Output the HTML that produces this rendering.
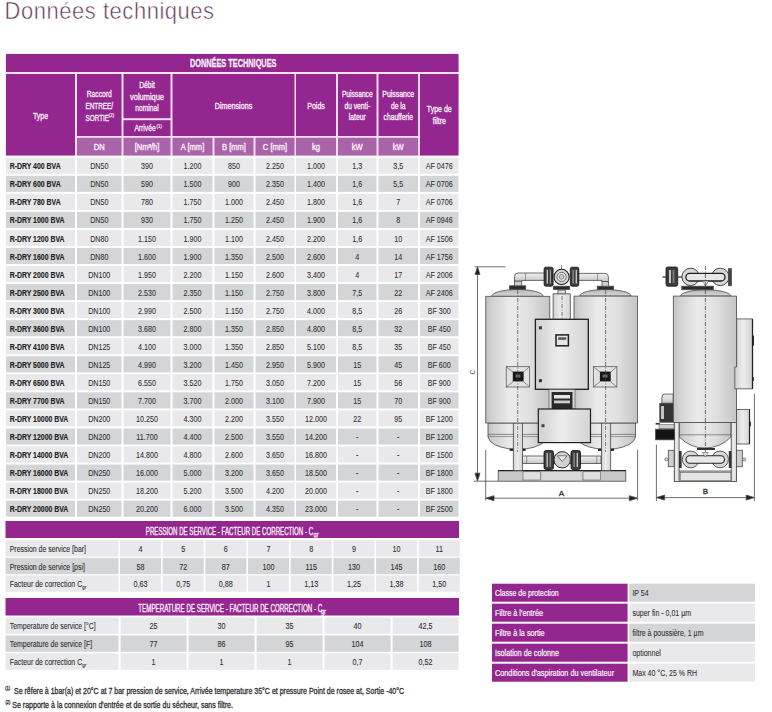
<!DOCTYPE html>
<html><head><meta charset="utf-8"><style>
html,body{margin:0;padding:0;background:#fff;width:772px;height:712px;overflow:hidden}
svg{display:block}
text{font-family:"Liberation Sans",sans-serif;white-space:pre}
</style></head><body>
<svg width="772" height="712" viewBox="0 0 772 712">
<text transform="translate(4.60,19.20) scale(0.9200,1)" font-size="23.9" font-weight="normal" fill="#5e3459" text-anchor="start"  stroke="#fff" stroke-width="0.55" textLength="227.72" lengthAdjust="spacing">Données techniques</text>
<rect x="5.50" y="53.50" width="453.50" height="102.50" fill="#f6def3" />
<rect x="6.00" y="54.00" width="452.50" height="18.00" fill="#93268f" />
<text transform="translate(233.20,67.10) scale(0.7010,1)" font-size="10.5" font-weight="bold" fill="#fbeefa" text-anchor="middle"  stroke="#fbeefa" stroke-width="0.3">DONNÉES TECHNIQUES</text>
<rect x="6.00" y="74.00" width="69.00" height="81.50" fill="#93268f" />
<rect x="77.00" y="74.00" width="44.50" height="62.00" fill="#93268f" />
<rect x="123.50" y="74.00" width="47.00" height="44.20" fill="#93268f" />
<rect x="123.50" y="120.20" width="47.00" height="15.80" fill="#93268f" />
<rect x="172.50" y="74.00" width="122.00" height="62.00" fill="#93268f" />
<rect x="296.00" y="74.00" width="40.00" height="62.00" fill="#93268f" />
<rect x="338.00" y="74.00" width="38.50" height="62.00" fill="#93268f" />
<rect x="378.50" y="74.00" width="39.50" height="62.00" fill="#93268f" />
<rect x="420.00" y="74.00" width="38.50" height="81.50" fill="#93268f" />
<rect x="77.00" y="137.80" width="44.50" height="17.70" fill="#aa62a9" />
<rect x="123.50" y="137.80" width="47.00" height="17.70" fill="#aa62a9" />
<rect x="172.50" y="137.80" width="40.00" height="17.70" fill="#aa62a9" />
<rect x="214.50" y="137.80" width="39.00" height="17.70" fill="#aa62a9" />
<rect x="255.50" y="137.80" width="39.00" height="17.70" fill="#aa62a9" />
<rect x="296.00" y="137.80" width="40.00" height="17.70" fill="#aa62a9" />
<rect x="338.00" y="137.80" width="38.50" height="17.70" fill="#aa62a9" />
<rect x="378.50" y="137.80" width="39.50" height="17.70" fill="#aa62a9" />
<text transform="translate(40.50,118.80) scale(0.7200,1)" font-size="9.6" font-weight="normal" fill="#fbeefa" text-anchor="middle"  stroke="#fbeefa" stroke-width="0.35">Type</text>
<text transform="translate(99.25,97.00) scale(0.6993,1)" font-size="9.6" font-weight="normal" fill="#fbeefa" text-anchor="middle"  stroke="#fbeefa" stroke-width="0.35">Raccord</text>
<text transform="translate(99.25,109.20) scale(0.6658,1)" font-size="9.6" font-weight="normal" fill="#fbeefa" text-anchor="middle"  stroke="#fbeefa" stroke-width="0.35">ENTREE/</text>
<text transform="translate(97.25,120.60) scale(0.6600,1)" font-size="9.6" font-weight="normal" fill="#fbeefa" text-anchor="middle"  stroke="#fbeefa" stroke-width="0.35">SORTIE</text>
<text transform="translate(147.00,87.80) scale(0.7000,1)" font-size="9.6" font-weight="normal" fill="#fbeefa" text-anchor="middle"  stroke="#fbeefa" stroke-width="0.35">Débit</text>
<text transform="translate(147.00,99.90) scale(0.7770,1)" font-size="9.6" font-weight="normal" fill="#fbeefa" text-anchor="middle"  stroke="#fbeefa" stroke-width="0.35">volumique</text>
<text transform="translate(147.00,111.30) scale(0.7000,1)" font-size="9.6" font-weight="normal" fill="#fbeefa" text-anchor="middle"  stroke="#fbeefa" stroke-width="0.35">nominal</text>
<text transform="translate(145.00,131.30) scale(0.7000,1)" font-size="9.6" font-weight="normal" fill="#fbeefa" text-anchor="middle"  stroke="#fbeefa" stroke-width="0.35">Arrivée</text>
<text transform="translate(156.50,127.50) scale(0.8000,1)" font-size="5.5" font-weight="normal" fill="#fbeefa" text-anchor="start"  stroke="#fbeefa" stroke-width="0.2">(1)</text>
<text transform="translate(108.80,116.80) scale(0.8000,1)" font-size="5.5" font-weight="normal" fill="#fbeefa" text-anchor="start"  stroke="#fbeefa" stroke-width="0.2">(2)</text>
<text transform="translate(233.50,109.00) scale(0.7517,1)" font-size="9.6" font-weight="normal" fill="#fbeefa" text-anchor="middle"  stroke="#fbeefa" stroke-width="0.35">Dimensions</text>
<text transform="translate(316.00,108.60) scale(0.7370,1)" font-size="9.6" font-weight="normal" fill="#fbeefa" text-anchor="middle"  stroke="#fbeefa" stroke-width="0.35">Poids</text>
<text transform="translate(357.25,96.80) scale(0.6954,1)" font-size="9.6" font-weight="normal" fill="#fbeefa" text-anchor="middle"  stroke="#fbeefa" stroke-width="0.35">Puissance</text>
<text transform="translate(357.25,108.60) scale(0.7000,1)" font-size="9.6" font-weight="normal" fill="#fbeefa" text-anchor="middle"  stroke="#fbeefa" stroke-width="0.35">du venti-</text>
<text transform="translate(357.25,120.10) scale(0.7000,1)" font-size="9.6" font-weight="normal" fill="#fbeefa" text-anchor="middle"  stroke="#fbeefa" stroke-width="0.35">lateur</text>
<text transform="translate(398.25,96.80) scale(0.7225,1)" font-size="9.6" font-weight="normal" fill="#fbeefa" text-anchor="middle"  stroke="#fbeefa" stroke-width="0.35">Puissance</text>
<text transform="translate(398.25,108.60) scale(0.7000,1)" font-size="9.6" font-weight="normal" fill="#fbeefa" text-anchor="middle"  stroke="#fbeefa" stroke-width="0.35">de la</text>
<text transform="translate(398.25,120.10) scale(0.7000,1)" font-size="9.6" font-weight="normal" fill="#fbeefa" text-anchor="middle"  stroke="#fbeefa" stroke-width="0.35">chaufferie</text>
<text transform="translate(439.25,112.00) scale(0.7319,1)" font-size="9.6" font-weight="normal" fill="#fbeefa" text-anchor="middle"  stroke="#fbeefa" stroke-width="0.35">Type de</text>
<text transform="translate(439.25,123.80) scale(0.7200,1)" font-size="9.6" font-weight="normal" fill="#fbeefa" text-anchor="middle"  stroke="#fbeefa" stroke-width="0.35">filtre</text>
<text transform="translate(99.25,150.00) scale(0.9000,1)" font-size="8.4" font-weight="normal" fill="#fbeefa" text-anchor="middle"  stroke="#fbeefa" stroke-width="0.35">DN</text>
<text transform="translate(147.00,150.00) scale(0.9000,1)" font-size="8.4" font-weight="normal" fill="#fbeefa" text-anchor="middle"  stroke="#fbeefa" stroke-width="0.35">[Nm³/h]</text>
<text transform="translate(192.50,150.00) scale(0.9000,1)" font-size="8.4" font-weight="normal" fill="#fbeefa" text-anchor="middle"  stroke="#fbeefa" stroke-width="0.35">A [mm]</text>
<text transform="translate(234.00,150.00) scale(0.9000,1)" font-size="8.4" font-weight="normal" fill="#fbeefa" text-anchor="middle"  stroke="#fbeefa" stroke-width="0.35">B [mm]</text>
<text transform="translate(275.00,150.00) scale(0.9000,1)" font-size="8.4" font-weight="normal" fill="#fbeefa" text-anchor="middle"  stroke="#fbeefa" stroke-width="0.35">C [mm]</text>
<text transform="translate(316.00,150.00) scale(0.9000,1)" font-size="8.4" font-weight="normal" fill="#fbeefa" text-anchor="middle"  stroke="#fbeefa" stroke-width="0.35">kg</text>
<text transform="translate(357.25,150.00) scale(0.9000,1)" font-size="8.4" font-weight="normal" fill="#fbeefa" text-anchor="middle"  stroke="#fbeefa" stroke-width="0.35">kW</text>
<text transform="translate(398.25,150.00) scale(0.9000,1)" font-size="8.4" font-weight="normal" fill="#fbeefa" text-anchor="middle"  stroke="#fbeefa" stroke-width="0.35">kW</text>
<rect x="6.00" y="157.70" width="69.00" height="16.10" fill="#e9e9eb" />
<rect x="77.00" y="157.70" width="44.50" height="16.10" fill="#e9e9eb" />
<rect x="123.50" y="157.70" width="47.00" height="16.10" fill="#e9e9eb" />
<rect x="172.50" y="157.70" width="40.00" height="16.10" fill="#e9e9eb" />
<rect x="214.50" y="157.70" width="39.00" height="16.10" fill="#e9e9eb" />
<rect x="255.50" y="157.70" width="39.00" height="16.10" fill="#e9e9eb" />
<rect x="296.00" y="157.70" width="40.00" height="16.10" fill="#e9e9eb" />
<rect x="338.00" y="157.70" width="38.50" height="16.10" fill="#e9e9eb" />
<rect x="378.50" y="157.70" width="39.50" height="16.10" fill="#e9e9eb" />
<rect x="420.00" y="157.70" width="38.50" height="16.10" fill="#e9e9eb" />
<text transform="translate(9.70,169.30) scale(0.7860,1)" font-size="8.8" font-weight="bold" fill="#222" text-anchor="start"  stroke="#222" stroke-width="0.15">R-DRY 400 BVA</text>
<text transform="translate(99.25,169.30) scale(0.7600,1)" font-size="9.4" font-weight="normal" fill="#2e2e30" text-anchor="middle"  stroke="#2e2e30" stroke-width="0.08">DN50</text>
<text transform="translate(147.00,169.30) scale(0.7600,1)" font-size="9.4" font-weight="normal" fill="#2e2e30" text-anchor="middle"  stroke="#2e2e30" stroke-width="0.08">390</text>
<text transform="translate(192.50,169.30) scale(0.7600,1)" font-size="9.4" font-weight="normal" fill="#2e2e30" text-anchor="middle"  stroke="#2e2e30" stroke-width="0.08">1.200</text>
<text transform="translate(234.00,169.30) scale(0.7600,1)" font-size="9.4" font-weight="normal" fill="#2e2e30" text-anchor="middle"  stroke="#2e2e30" stroke-width="0.08">850</text>
<text transform="translate(275.00,169.30) scale(0.7600,1)" font-size="9.4" font-weight="normal" fill="#2e2e30" text-anchor="middle"  stroke="#2e2e30" stroke-width="0.08">2.250</text>
<text transform="translate(316.00,169.30) scale(0.7600,1)" font-size="9.4" font-weight="normal" fill="#2e2e30" text-anchor="middle"  stroke="#2e2e30" stroke-width="0.08">1.000</text>
<text transform="translate(357.25,169.30) scale(0.7600,1)" font-size="9.4" font-weight="normal" fill="#2e2e30" text-anchor="middle"  stroke="#2e2e30" stroke-width="0.08">1,3</text>
<text transform="translate(398.25,169.30) scale(0.7600,1)" font-size="9.4" font-weight="normal" fill="#2e2e30" text-anchor="middle"  stroke="#2e2e30" stroke-width="0.08">3,5</text>
<text transform="translate(439.25,169.30) scale(0.7600,1)" font-size="9.4" font-weight="normal" fill="#2e2e30" text-anchor="middle"  stroke="#2e2e30" stroke-width="0.08">AF 0476</text>
<rect x="6.00" y="175.75" width="69.00" height="16.10" fill="#d4d5d7" />
<rect x="77.00" y="175.75" width="44.50" height="16.10" fill="#d4d5d7" />
<rect x="123.50" y="175.75" width="47.00" height="16.10" fill="#d4d5d7" />
<rect x="172.50" y="175.75" width="40.00" height="16.10" fill="#d4d5d7" />
<rect x="214.50" y="175.75" width="39.00" height="16.10" fill="#d4d5d7" />
<rect x="255.50" y="175.75" width="39.00" height="16.10" fill="#d4d5d7" />
<rect x="296.00" y="175.75" width="40.00" height="16.10" fill="#d4d5d7" />
<rect x="338.00" y="175.75" width="38.50" height="16.10" fill="#d4d5d7" />
<rect x="378.50" y="175.75" width="39.50" height="16.10" fill="#d4d5d7" />
<rect x="420.00" y="175.75" width="38.50" height="16.10" fill="#d4d5d7" />
<text transform="translate(9.70,187.35) scale(0.7860,1)" font-size="8.8" font-weight="bold" fill="#222" text-anchor="start"  stroke="#222" stroke-width="0.15">R-DRY 600 BVA</text>
<text transform="translate(99.25,187.35) scale(0.7600,1)" font-size="9.4" font-weight="normal" fill="#2e2e30" text-anchor="middle"  stroke="#2e2e30" stroke-width="0.08">DN50</text>
<text transform="translate(147.00,187.35) scale(0.7600,1)" font-size="9.4" font-weight="normal" fill="#2e2e30" text-anchor="middle"  stroke="#2e2e30" stroke-width="0.08">590</text>
<text transform="translate(192.50,187.35) scale(0.7600,1)" font-size="9.4" font-weight="normal" fill="#2e2e30" text-anchor="middle"  stroke="#2e2e30" stroke-width="0.08">1.500</text>
<text transform="translate(234.00,187.35) scale(0.7600,1)" font-size="9.4" font-weight="normal" fill="#2e2e30" text-anchor="middle"  stroke="#2e2e30" stroke-width="0.08">900</text>
<text transform="translate(275.00,187.35) scale(0.7600,1)" font-size="9.4" font-weight="normal" fill="#2e2e30" text-anchor="middle"  stroke="#2e2e30" stroke-width="0.08">2.350</text>
<text transform="translate(316.00,187.35) scale(0.7600,1)" font-size="9.4" font-weight="normal" fill="#2e2e30" text-anchor="middle"  stroke="#2e2e30" stroke-width="0.08">1.400</text>
<text transform="translate(357.25,187.35) scale(0.7600,1)" font-size="9.4" font-weight="normal" fill="#2e2e30" text-anchor="middle"  stroke="#2e2e30" stroke-width="0.08">1,6</text>
<text transform="translate(398.25,187.35) scale(0.7600,1)" font-size="9.4" font-weight="normal" fill="#2e2e30" text-anchor="middle"  stroke="#2e2e30" stroke-width="0.08">5,5</text>
<text transform="translate(439.25,187.35) scale(0.7600,1)" font-size="9.4" font-weight="normal" fill="#2e2e30" text-anchor="middle"  stroke="#2e2e30" stroke-width="0.08">AF 0706</text>
<rect x="6.00" y="193.80" width="69.00" height="16.10" fill="#e9e9eb" />
<rect x="77.00" y="193.80" width="44.50" height="16.10" fill="#e9e9eb" />
<rect x="123.50" y="193.80" width="47.00" height="16.10" fill="#e9e9eb" />
<rect x="172.50" y="193.80" width="40.00" height="16.10" fill="#e9e9eb" />
<rect x="214.50" y="193.80" width="39.00" height="16.10" fill="#e9e9eb" />
<rect x="255.50" y="193.80" width="39.00" height="16.10" fill="#e9e9eb" />
<rect x="296.00" y="193.80" width="40.00" height="16.10" fill="#e9e9eb" />
<rect x="338.00" y="193.80" width="38.50" height="16.10" fill="#e9e9eb" />
<rect x="378.50" y="193.80" width="39.50" height="16.10" fill="#e9e9eb" />
<rect x="420.00" y="193.80" width="38.50" height="16.10" fill="#e9e9eb" />
<text transform="translate(9.70,205.40) scale(0.7860,1)" font-size="8.8" font-weight="bold" fill="#222" text-anchor="start"  stroke="#222" stroke-width="0.15">R-DRY 780 BVA</text>
<text transform="translate(99.25,205.40) scale(0.7600,1)" font-size="9.4" font-weight="normal" fill="#2e2e30" text-anchor="middle"  stroke="#2e2e30" stroke-width="0.08">DN50</text>
<text transform="translate(147.00,205.40) scale(0.7600,1)" font-size="9.4" font-weight="normal" fill="#2e2e30" text-anchor="middle"  stroke="#2e2e30" stroke-width="0.08">780</text>
<text transform="translate(192.50,205.40) scale(0.7600,1)" font-size="9.4" font-weight="normal" fill="#2e2e30" text-anchor="middle"  stroke="#2e2e30" stroke-width="0.08">1.750</text>
<text transform="translate(234.00,205.40) scale(0.7600,1)" font-size="9.4" font-weight="normal" fill="#2e2e30" text-anchor="middle"  stroke="#2e2e30" stroke-width="0.08">1.000</text>
<text transform="translate(275.00,205.40) scale(0.7600,1)" font-size="9.4" font-weight="normal" fill="#2e2e30" text-anchor="middle"  stroke="#2e2e30" stroke-width="0.08">2.450</text>
<text transform="translate(316.00,205.40) scale(0.7600,1)" font-size="9.4" font-weight="normal" fill="#2e2e30" text-anchor="middle"  stroke="#2e2e30" stroke-width="0.08">1.800</text>
<text transform="translate(357.25,205.40) scale(0.7600,1)" font-size="9.4" font-weight="normal" fill="#2e2e30" text-anchor="middle"  stroke="#2e2e30" stroke-width="0.08">1,6</text>
<text transform="translate(398.25,205.40) scale(0.7600,1)" font-size="9.4" font-weight="normal" fill="#2e2e30" text-anchor="middle"  stroke="#2e2e30" stroke-width="0.08">7</text>
<text transform="translate(439.25,205.40) scale(0.7600,1)" font-size="9.4" font-weight="normal" fill="#2e2e30" text-anchor="middle"  stroke="#2e2e30" stroke-width="0.08">AF 0706</text>
<rect x="6.00" y="211.85" width="69.00" height="16.10" fill="#d4d5d7" />
<rect x="77.00" y="211.85" width="44.50" height="16.10" fill="#d4d5d7" />
<rect x="123.50" y="211.85" width="47.00" height="16.10" fill="#d4d5d7" />
<rect x="172.50" y="211.85" width="40.00" height="16.10" fill="#d4d5d7" />
<rect x="214.50" y="211.85" width="39.00" height="16.10" fill="#d4d5d7" />
<rect x="255.50" y="211.85" width="39.00" height="16.10" fill="#d4d5d7" />
<rect x="296.00" y="211.85" width="40.00" height="16.10" fill="#d4d5d7" />
<rect x="338.00" y="211.85" width="38.50" height="16.10" fill="#d4d5d7" />
<rect x="378.50" y="211.85" width="39.50" height="16.10" fill="#d4d5d7" />
<rect x="420.00" y="211.85" width="38.50" height="16.10" fill="#d4d5d7" />
<text transform="translate(9.70,223.45) scale(0.7860,1)" font-size="8.8" font-weight="bold" fill="#222" text-anchor="start"  stroke="#222" stroke-width="0.15">R-DRY 1000 BVA</text>
<text transform="translate(99.25,223.45) scale(0.7600,1)" font-size="9.4" font-weight="normal" fill="#2e2e30" text-anchor="middle"  stroke="#2e2e30" stroke-width="0.08">DN50</text>
<text transform="translate(147.00,223.45) scale(0.7600,1)" font-size="9.4" font-weight="normal" fill="#2e2e30" text-anchor="middle"  stroke="#2e2e30" stroke-width="0.08">930</text>
<text transform="translate(192.50,223.45) scale(0.7600,1)" font-size="9.4" font-weight="normal" fill="#2e2e30" text-anchor="middle"  stroke="#2e2e30" stroke-width="0.08">1.750</text>
<text transform="translate(234.00,223.45) scale(0.7600,1)" font-size="9.4" font-weight="normal" fill="#2e2e30" text-anchor="middle"  stroke="#2e2e30" stroke-width="0.08">1.250</text>
<text transform="translate(275.00,223.45) scale(0.7600,1)" font-size="9.4" font-weight="normal" fill="#2e2e30" text-anchor="middle"  stroke="#2e2e30" stroke-width="0.08">2.450</text>
<text transform="translate(316.00,223.45) scale(0.7600,1)" font-size="9.4" font-weight="normal" fill="#2e2e30" text-anchor="middle"  stroke="#2e2e30" stroke-width="0.08">1.900</text>
<text transform="translate(357.25,223.45) scale(0.7600,1)" font-size="9.4" font-weight="normal" fill="#2e2e30" text-anchor="middle"  stroke="#2e2e30" stroke-width="0.08">1,6</text>
<text transform="translate(398.25,223.45) scale(0.7600,1)" font-size="9.4" font-weight="normal" fill="#2e2e30" text-anchor="middle"  stroke="#2e2e30" stroke-width="0.08">8</text>
<text transform="translate(439.25,223.45) scale(0.7600,1)" font-size="9.4" font-weight="normal" fill="#2e2e30" text-anchor="middle"  stroke="#2e2e30" stroke-width="0.08">AF 0946</text>
<rect x="6.00" y="229.90" width="69.00" height="16.10" fill="#e9e9eb" />
<rect x="77.00" y="229.90" width="44.50" height="16.10" fill="#e9e9eb" />
<rect x="123.50" y="229.90" width="47.00" height="16.10" fill="#e9e9eb" />
<rect x="172.50" y="229.90" width="40.00" height="16.10" fill="#e9e9eb" />
<rect x="214.50" y="229.90" width="39.00" height="16.10" fill="#e9e9eb" />
<rect x="255.50" y="229.90" width="39.00" height="16.10" fill="#e9e9eb" />
<rect x="296.00" y="229.90" width="40.00" height="16.10" fill="#e9e9eb" />
<rect x="338.00" y="229.90" width="38.50" height="16.10" fill="#e9e9eb" />
<rect x="378.50" y="229.90" width="39.50" height="16.10" fill="#e9e9eb" />
<rect x="420.00" y="229.90" width="38.50" height="16.10" fill="#e9e9eb" />
<text transform="translate(9.70,241.50) scale(0.7860,1)" font-size="8.8" font-weight="bold" fill="#222" text-anchor="start"  stroke="#222" stroke-width="0.15">R-DRY 1200 BVA</text>
<text transform="translate(99.25,241.50) scale(0.7600,1)" font-size="9.4" font-weight="normal" fill="#2e2e30" text-anchor="middle"  stroke="#2e2e30" stroke-width="0.08">DN80</text>
<text transform="translate(147.00,241.50) scale(0.7600,1)" font-size="9.4" font-weight="normal" fill="#2e2e30" text-anchor="middle"  stroke="#2e2e30" stroke-width="0.08">1.150</text>
<text transform="translate(192.50,241.50) scale(0.7600,1)" font-size="9.4" font-weight="normal" fill="#2e2e30" text-anchor="middle"  stroke="#2e2e30" stroke-width="0.08">1.900</text>
<text transform="translate(234.00,241.50) scale(0.7600,1)" font-size="9.4" font-weight="normal" fill="#2e2e30" text-anchor="middle"  stroke="#2e2e30" stroke-width="0.08">1.100</text>
<text transform="translate(275.00,241.50) scale(0.7600,1)" font-size="9.4" font-weight="normal" fill="#2e2e30" text-anchor="middle"  stroke="#2e2e30" stroke-width="0.08">2.450</text>
<text transform="translate(316.00,241.50) scale(0.7600,1)" font-size="9.4" font-weight="normal" fill="#2e2e30" text-anchor="middle"  stroke="#2e2e30" stroke-width="0.08">2.200</text>
<text transform="translate(357.25,241.50) scale(0.7600,1)" font-size="9.4" font-weight="normal" fill="#2e2e30" text-anchor="middle"  stroke="#2e2e30" stroke-width="0.08">1,6</text>
<text transform="translate(398.25,241.50) scale(0.7600,1)" font-size="9.4" font-weight="normal" fill="#2e2e30" text-anchor="middle"  stroke="#2e2e30" stroke-width="0.08">10</text>
<text transform="translate(439.25,241.50) scale(0.7600,1)" font-size="9.4" font-weight="normal" fill="#2e2e30" text-anchor="middle"  stroke="#2e2e30" stroke-width="0.08">AF 1506</text>
<rect x="6.00" y="247.95" width="69.00" height="16.10" fill="#d4d5d7" />
<rect x="77.00" y="247.95" width="44.50" height="16.10" fill="#d4d5d7" />
<rect x="123.50" y="247.95" width="47.00" height="16.10" fill="#d4d5d7" />
<rect x="172.50" y="247.95" width="40.00" height="16.10" fill="#d4d5d7" />
<rect x="214.50" y="247.95" width="39.00" height="16.10" fill="#d4d5d7" />
<rect x="255.50" y="247.95" width="39.00" height="16.10" fill="#d4d5d7" />
<rect x="296.00" y="247.95" width="40.00" height="16.10" fill="#d4d5d7" />
<rect x="338.00" y="247.95" width="38.50" height="16.10" fill="#d4d5d7" />
<rect x="378.50" y="247.95" width="39.50" height="16.10" fill="#d4d5d7" />
<rect x="420.00" y="247.95" width="38.50" height="16.10" fill="#d4d5d7" />
<text transform="translate(9.70,259.55) scale(0.7860,1)" font-size="8.8" font-weight="bold" fill="#222" text-anchor="start"  stroke="#222" stroke-width="0.15">R-DRY 1600 BVA</text>
<text transform="translate(99.25,259.55) scale(0.7600,1)" font-size="9.4" font-weight="normal" fill="#2e2e30" text-anchor="middle"  stroke="#2e2e30" stroke-width="0.08">DN80</text>
<text transform="translate(147.00,259.55) scale(0.7600,1)" font-size="9.4" font-weight="normal" fill="#2e2e30" text-anchor="middle"  stroke="#2e2e30" stroke-width="0.08">1.600</text>
<text transform="translate(192.50,259.55) scale(0.7600,1)" font-size="9.4" font-weight="normal" fill="#2e2e30" text-anchor="middle"  stroke="#2e2e30" stroke-width="0.08">1.900</text>
<text transform="translate(234.00,259.55) scale(0.7600,1)" font-size="9.4" font-weight="normal" fill="#2e2e30" text-anchor="middle"  stroke="#2e2e30" stroke-width="0.08">1.350</text>
<text transform="translate(275.00,259.55) scale(0.7600,1)" font-size="9.4" font-weight="normal" fill="#2e2e30" text-anchor="middle"  stroke="#2e2e30" stroke-width="0.08">2.500</text>
<text transform="translate(316.00,259.55) scale(0.7600,1)" font-size="9.4" font-weight="normal" fill="#2e2e30" text-anchor="middle"  stroke="#2e2e30" stroke-width="0.08">2.600</text>
<text transform="translate(357.25,259.55) scale(0.7600,1)" font-size="9.4" font-weight="normal" fill="#2e2e30" text-anchor="middle"  stroke="#2e2e30" stroke-width="0.08">4</text>
<text transform="translate(398.25,259.55) scale(0.7600,1)" font-size="9.4" font-weight="normal" fill="#2e2e30" text-anchor="middle"  stroke="#2e2e30" stroke-width="0.08">14</text>
<text transform="translate(439.25,259.55) scale(0.7600,1)" font-size="9.4" font-weight="normal" fill="#2e2e30" text-anchor="middle"  stroke="#2e2e30" stroke-width="0.08">AF 1756</text>
<rect x="6.00" y="266.00" width="69.00" height="16.10" fill="#e9e9eb" />
<rect x="77.00" y="266.00" width="44.50" height="16.10" fill="#e9e9eb" />
<rect x="123.50" y="266.00" width="47.00" height="16.10" fill="#e9e9eb" />
<rect x="172.50" y="266.00" width="40.00" height="16.10" fill="#e9e9eb" />
<rect x="214.50" y="266.00" width="39.00" height="16.10" fill="#e9e9eb" />
<rect x="255.50" y="266.00" width="39.00" height="16.10" fill="#e9e9eb" />
<rect x="296.00" y="266.00" width="40.00" height="16.10" fill="#e9e9eb" />
<rect x="338.00" y="266.00" width="38.50" height="16.10" fill="#e9e9eb" />
<rect x="378.50" y="266.00" width="39.50" height="16.10" fill="#e9e9eb" />
<rect x="420.00" y="266.00" width="38.50" height="16.10" fill="#e9e9eb" />
<text transform="translate(9.70,277.60) scale(0.7860,1)" font-size="8.8" font-weight="bold" fill="#222" text-anchor="start"  stroke="#222" stroke-width="0.15">R-DRY 2000 BVA</text>
<text transform="translate(99.25,277.60) scale(0.7600,1)" font-size="9.4" font-weight="normal" fill="#2e2e30" text-anchor="middle"  stroke="#2e2e30" stroke-width="0.08">DN100</text>
<text transform="translate(147.00,277.60) scale(0.7600,1)" font-size="9.4" font-weight="normal" fill="#2e2e30" text-anchor="middle"  stroke="#2e2e30" stroke-width="0.08">1.950</text>
<text transform="translate(192.50,277.60) scale(0.7600,1)" font-size="9.4" font-weight="normal" fill="#2e2e30" text-anchor="middle"  stroke="#2e2e30" stroke-width="0.08">2.200</text>
<text transform="translate(234.00,277.60) scale(0.7600,1)" font-size="9.4" font-weight="normal" fill="#2e2e30" text-anchor="middle"  stroke="#2e2e30" stroke-width="0.08">1.150</text>
<text transform="translate(275.00,277.60) scale(0.7600,1)" font-size="9.4" font-weight="normal" fill="#2e2e30" text-anchor="middle"  stroke="#2e2e30" stroke-width="0.08">2.600</text>
<text transform="translate(316.00,277.60) scale(0.7600,1)" font-size="9.4" font-weight="normal" fill="#2e2e30" text-anchor="middle"  stroke="#2e2e30" stroke-width="0.08">3.400</text>
<text transform="translate(357.25,277.60) scale(0.7600,1)" font-size="9.4" font-weight="normal" fill="#2e2e30" text-anchor="middle"  stroke="#2e2e30" stroke-width="0.08">4</text>
<text transform="translate(398.25,277.60) scale(0.7600,1)" font-size="9.4" font-weight="normal" fill="#2e2e30" text-anchor="middle"  stroke="#2e2e30" stroke-width="0.08">17</text>
<text transform="translate(439.25,277.60) scale(0.7600,1)" font-size="9.4" font-weight="normal" fill="#2e2e30" text-anchor="middle"  stroke="#2e2e30" stroke-width="0.08">AF 2006</text>
<rect x="6.00" y="284.05" width="69.00" height="16.10" fill="#d4d5d7" />
<rect x="77.00" y="284.05" width="44.50" height="16.10" fill="#d4d5d7" />
<rect x="123.50" y="284.05" width="47.00" height="16.10" fill="#d4d5d7" />
<rect x="172.50" y="284.05" width="40.00" height="16.10" fill="#d4d5d7" />
<rect x="214.50" y="284.05" width="39.00" height="16.10" fill="#d4d5d7" />
<rect x="255.50" y="284.05" width="39.00" height="16.10" fill="#d4d5d7" />
<rect x="296.00" y="284.05" width="40.00" height="16.10" fill="#d4d5d7" />
<rect x="338.00" y="284.05" width="38.50" height="16.10" fill="#d4d5d7" />
<rect x="378.50" y="284.05" width="39.50" height="16.10" fill="#d4d5d7" />
<rect x="420.00" y="284.05" width="38.50" height="16.10" fill="#d4d5d7" />
<text transform="translate(9.70,295.65) scale(0.7860,1)" font-size="8.8" font-weight="bold" fill="#222" text-anchor="start"  stroke="#222" stroke-width="0.15">R-DRY 2500 BVA</text>
<text transform="translate(99.25,295.65) scale(0.7600,1)" font-size="9.4" font-weight="normal" fill="#2e2e30" text-anchor="middle"  stroke="#2e2e30" stroke-width="0.08">DN100</text>
<text transform="translate(147.00,295.65) scale(0.7600,1)" font-size="9.4" font-weight="normal" fill="#2e2e30" text-anchor="middle"  stroke="#2e2e30" stroke-width="0.08">2.530</text>
<text transform="translate(192.50,295.65) scale(0.7600,1)" font-size="9.4" font-weight="normal" fill="#2e2e30" text-anchor="middle"  stroke="#2e2e30" stroke-width="0.08">2.350</text>
<text transform="translate(234.00,295.65) scale(0.7600,1)" font-size="9.4" font-weight="normal" fill="#2e2e30" text-anchor="middle"  stroke="#2e2e30" stroke-width="0.08">1.150</text>
<text transform="translate(275.00,295.65) scale(0.7600,1)" font-size="9.4" font-weight="normal" fill="#2e2e30" text-anchor="middle"  stroke="#2e2e30" stroke-width="0.08">2.750</text>
<text transform="translate(316.00,295.65) scale(0.7600,1)" font-size="9.4" font-weight="normal" fill="#2e2e30" text-anchor="middle"  stroke="#2e2e30" stroke-width="0.08">3.800</text>
<text transform="translate(357.25,295.65) scale(0.7600,1)" font-size="9.4" font-weight="normal" fill="#2e2e30" text-anchor="middle"  stroke="#2e2e30" stroke-width="0.08">7,5</text>
<text transform="translate(398.25,295.65) scale(0.7600,1)" font-size="9.4" font-weight="normal" fill="#2e2e30" text-anchor="middle"  stroke="#2e2e30" stroke-width="0.08">22</text>
<text transform="translate(439.25,295.65) scale(0.7600,1)" font-size="9.4" font-weight="normal" fill="#2e2e30" text-anchor="middle"  stroke="#2e2e30" stroke-width="0.08">AF 2406</text>
<rect x="6.00" y="302.10" width="69.00" height="16.10" fill="#e9e9eb" />
<rect x="77.00" y="302.10" width="44.50" height="16.10" fill="#e9e9eb" />
<rect x="123.50" y="302.10" width="47.00" height="16.10" fill="#e9e9eb" />
<rect x="172.50" y="302.10" width="40.00" height="16.10" fill="#e9e9eb" />
<rect x="214.50" y="302.10" width="39.00" height="16.10" fill="#e9e9eb" />
<rect x="255.50" y="302.10" width="39.00" height="16.10" fill="#e9e9eb" />
<rect x="296.00" y="302.10" width="40.00" height="16.10" fill="#e9e9eb" />
<rect x="338.00" y="302.10" width="38.50" height="16.10" fill="#e9e9eb" />
<rect x="378.50" y="302.10" width="39.50" height="16.10" fill="#e9e9eb" />
<rect x="420.00" y="302.10" width="38.50" height="16.10" fill="#e9e9eb" />
<text transform="translate(9.70,313.70) scale(0.7860,1)" font-size="8.8" font-weight="bold" fill="#222" text-anchor="start"  stroke="#222" stroke-width="0.15">R-DRY 3000 BVA</text>
<text transform="translate(99.25,313.70) scale(0.7600,1)" font-size="9.4" font-weight="normal" fill="#2e2e30" text-anchor="middle"  stroke="#2e2e30" stroke-width="0.08">DN100</text>
<text transform="translate(147.00,313.70) scale(0.7600,1)" font-size="9.4" font-weight="normal" fill="#2e2e30" text-anchor="middle"  stroke="#2e2e30" stroke-width="0.08">2.990</text>
<text transform="translate(192.50,313.70) scale(0.7600,1)" font-size="9.4" font-weight="normal" fill="#2e2e30" text-anchor="middle"  stroke="#2e2e30" stroke-width="0.08">2.500</text>
<text transform="translate(234.00,313.70) scale(0.7600,1)" font-size="9.4" font-weight="normal" fill="#2e2e30" text-anchor="middle"  stroke="#2e2e30" stroke-width="0.08">1.150</text>
<text transform="translate(275.00,313.70) scale(0.7600,1)" font-size="9.4" font-weight="normal" fill="#2e2e30" text-anchor="middle"  stroke="#2e2e30" stroke-width="0.08">2.750</text>
<text transform="translate(316.00,313.70) scale(0.7600,1)" font-size="9.4" font-weight="normal" fill="#2e2e30" text-anchor="middle"  stroke="#2e2e30" stroke-width="0.08">4.000</text>
<text transform="translate(357.25,313.70) scale(0.7600,1)" font-size="9.4" font-weight="normal" fill="#2e2e30" text-anchor="middle"  stroke="#2e2e30" stroke-width="0.08">8,5</text>
<text transform="translate(398.25,313.70) scale(0.7600,1)" font-size="9.4" font-weight="normal" fill="#2e2e30" text-anchor="middle"  stroke="#2e2e30" stroke-width="0.08">26</text>
<text transform="translate(439.25,313.70) scale(0.7600,1)" font-size="9.4" font-weight="normal" fill="#2e2e30" text-anchor="middle"  stroke="#2e2e30" stroke-width="0.08">BF 300</text>
<rect x="6.00" y="320.15" width="69.00" height="16.10" fill="#d4d5d7" />
<rect x="77.00" y="320.15" width="44.50" height="16.10" fill="#d4d5d7" />
<rect x="123.50" y="320.15" width="47.00" height="16.10" fill="#d4d5d7" />
<rect x="172.50" y="320.15" width="40.00" height="16.10" fill="#d4d5d7" />
<rect x="214.50" y="320.15" width="39.00" height="16.10" fill="#d4d5d7" />
<rect x="255.50" y="320.15" width="39.00" height="16.10" fill="#d4d5d7" />
<rect x="296.00" y="320.15" width="40.00" height="16.10" fill="#d4d5d7" />
<rect x="338.00" y="320.15" width="38.50" height="16.10" fill="#d4d5d7" />
<rect x="378.50" y="320.15" width="39.50" height="16.10" fill="#d4d5d7" />
<rect x="420.00" y="320.15" width="38.50" height="16.10" fill="#d4d5d7" />
<text transform="translate(9.70,331.75) scale(0.7860,1)" font-size="8.8" font-weight="bold" fill="#222" text-anchor="start"  stroke="#222" stroke-width="0.15">R-DRY 3600 BVA</text>
<text transform="translate(99.25,331.75) scale(0.7600,1)" font-size="9.4" font-weight="normal" fill="#2e2e30" text-anchor="middle"  stroke="#2e2e30" stroke-width="0.08">DN100</text>
<text transform="translate(147.00,331.75) scale(0.7600,1)" font-size="9.4" font-weight="normal" fill="#2e2e30" text-anchor="middle"  stroke="#2e2e30" stroke-width="0.08">3.680</text>
<text transform="translate(192.50,331.75) scale(0.7600,1)" font-size="9.4" font-weight="normal" fill="#2e2e30" text-anchor="middle"  stroke="#2e2e30" stroke-width="0.08">2.800</text>
<text transform="translate(234.00,331.75) scale(0.7600,1)" font-size="9.4" font-weight="normal" fill="#2e2e30" text-anchor="middle"  stroke="#2e2e30" stroke-width="0.08">1.350</text>
<text transform="translate(275.00,331.75) scale(0.7600,1)" font-size="9.4" font-weight="normal" fill="#2e2e30" text-anchor="middle"  stroke="#2e2e30" stroke-width="0.08">2.850</text>
<text transform="translate(316.00,331.75) scale(0.7600,1)" font-size="9.4" font-weight="normal" fill="#2e2e30" text-anchor="middle"  stroke="#2e2e30" stroke-width="0.08">4.800</text>
<text transform="translate(357.25,331.75) scale(0.7600,1)" font-size="9.4" font-weight="normal" fill="#2e2e30" text-anchor="middle"  stroke="#2e2e30" stroke-width="0.08">8,5</text>
<text transform="translate(398.25,331.75) scale(0.7600,1)" font-size="9.4" font-weight="normal" fill="#2e2e30" text-anchor="middle"  stroke="#2e2e30" stroke-width="0.08">32</text>
<text transform="translate(439.25,331.75) scale(0.7600,1)" font-size="9.4" font-weight="normal" fill="#2e2e30" text-anchor="middle"  stroke="#2e2e30" stroke-width="0.08">BF 450</text>
<rect x="6.00" y="338.20" width="69.00" height="16.10" fill="#e9e9eb" />
<rect x="77.00" y="338.20" width="44.50" height="16.10" fill="#e9e9eb" />
<rect x="123.50" y="338.20" width="47.00" height="16.10" fill="#e9e9eb" />
<rect x="172.50" y="338.20" width="40.00" height="16.10" fill="#e9e9eb" />
<rect x="214.50" y="338.20" width="39.00" height="16.10" fill="#e9e9eb" />
<rect x="255.50" y="338.20" width="39.00" height="16.10" fill="#e9e9eb" />
<rect x="296.00" y="338.20" width="40.00" height="16.10" fill="#e9e9eb" />
<rect x="338.00" y="338.20" width="38.50" height="16.10" fill="#e9e9eb" />
<rect x="378.50" y="338.20" width="39.50" height="16.10" fill="#e9e9eb" />
<rect x="420.00" y="338.20" width="38.50" height="16.10" fill="#e9e9eb" />
<text transform="translate(9.70,349.80) scale(0.7860,1)" font-size="8.8" font-weight="bold" fill="#222" text-anchor="start"  stroke="#222" stroke-width="0.15">R-DRY 4100 BVA</text>
<text transform="translate(99.25,349.80) scale(0.7600,1)" font-size="9.4" font-weight="normal" fill="#2e2e30" text-anchor="middle"  stroke="#2e2e30" stroke-width="0.08">DN125</text>
<text transform="translate(147.00,349.80) scale(0.7600,1)" font-size="9.4" font-weight="normal" fill="#2e2e30" text-anchor="middle"  stroke="#2e2e30" stroke-width="0.08">4.100</text>
<text transform="translate(192.50,349.80) scale(0.7600,1)" font-size="9.4" font-weight="normal" fill="#2e2e30" text-anchor="middle"  stroke="#2e2e30" stroke-width="0.08">3.000</text>
<text transform="translate(234.00,349.80) scale(0.7600,1)" font-size="9.4" font-weight="normal" fill="#2e2e30" text-anchor="middle"  stroke="#2e2e30" stroke-width="0.08">1.350</text>
<text transform="translate(275.00,349.80) scale(0.7600,1)" font-size="9.4" font-weight="normal" fill="#2e2e30" text-anchor="middle"  stroke="#2e2e30" stroke-width="0.08">2.850</text>
<text transform="translate(316.00,349.80) scale(0.7600,1)" font-size="9.4" font-weight="normal" fill="#2e2e30" text-anchor="middle"  stroke="#2e2e30" stroke-width="0.08">5.100</text>
<text transform="translate(357.25,349.80) scale(0.7600,1)" font-size="9.4" font-weight="normal" fill="#2e2e30" text-anchor="middle"  stroke="#2e2e30" stroke-width="0.08">8,5</text>
<text transform="translate(398.25,349.80) scale(0.7600,1)" font-size="9.4" font-weight="normal" fill="#2e2e30" text-anchor="middle"  stroke="#2e2e30" stroke-width="0.08">35</text>
<text transform="translate(439.25,349.80) scale(0.7600,1)" font-size="9.4" font-weight="normal" fill="#2e2e30" text-anchor="middle"  stroke="#2e2e30" stroke-width="0.08">BF 450</text>
<rect x="6.00" y="356.25" width="69.00" height="16.10" fill="#d4d5d7" />
<rect x="77.00" y="356.25" width="44.50" height="16.10" fill="#d4d5d7" />
<rect x="123.50" y="356.25" width="47.00" height="16.10" fill="#d4d5d7" />
<rect x="172.50" y="356.25" width="40.00" height="16.10" fill="#d4d5d7" />
<rect x="214.50" y="356.25" width="39.00" height="16.10" fill="#d4d5d7" />
<rect x="255.50" y="356.25" width="39.00" height="16.10" fill="#d4d5d7" />
<rect x="296.00" y="356.25" width="40.00" height="16.10" fill="#d4d5d7" />
<rect x="338.00" y="356.25" width="38.50" height="16.10" fill="#d4d5d7" />
<rect x="378.50" y="356.25" width="39.50" height="16.10" fill="#d4d5d7" />
<rect x="420.00" y="356.25" width="38.50" height="16.10" fill="#d4d5d7" />
<text transform="translate(9.70,367.85) scale(0.7860,1)" font-size="8.8" font-weight="bold" fill="#222" text-anchor="start"  stroke="#222" stroke-width="0.15">R-DRY 5000 BVA</text>
<text transform="translate(99.25,367.85) scale(0.7600,1)" font-size="9.4" font-weight="normal" fill="#2e2e30" text-anchor="middle"  stroke="#2e2e30" stroke-width="0.08">DN125</text>
<text transform="translate(147.00,367.85) scale(0.7600,1)" font-size="9.4" font-weight="normal" fill="#2e2e30" text-anchor="middle"  stroke="#2e2e30" stroke-width="0.08">4.990</text>
<text transform="translate(192.50,367.85) scale(0.7600,1)" font-size="9.4" font-weight="normal" fill="#2e2e30" text-anchor="middle"  stroke="#2e2e30" stroke-width="0.08">3.200</text>
<text transform="translate(234.00,367.85) scale(0.7600,1)" font-size="9.4" font-weight="normal" fill="#2e2e30" text-anchor="middle"  stroke="#2e2e30" stroke-width="0.08">1.450</text>
<text transform="translate(275.00,367.85) scale(0.7600,1)" font-size="9.4" font-weight="normal" fill="#2e2e30" text-anchor="middle"  stroke="#2e2e30" stroke-width="0.08">2.950</text>
<text transform="translate(316.00,367.85) scale(0.7600,1)" font-size="9.4" font-weight="normal" fill="#2e2e30" text-anchor="middle"  stroke="#2e2e30" stroke-width="0.08">5.900</text>
<text transform="translate(357.25,367.85) scale(0.7600,1)" font-size="9.4" font-weight="normal" fill="#2e2e30" text-anchor="middle"  stroke="#2e2e30" stroke-width="0.08">15</text>
<text transform="translate(398.25,367.85) scale(0.7600,1)" font-size="9.4" font-weight="normal" fill="#2e2e30" text-anchor="middle"  stroke="#2e2e30" stroke-width="0.08">45</text>
<text transform="translate(439.25,367.85) scale(0.7600,1)" font-size="9.4" font-weight="normal" fill="#2e2e30" text-anchor="middle"  stroke="#2e2e30" stroke-width="0.08">BF 600</text>
<rect x="6.00" y="374.30" width="69.00" height="16.10" fill="#e9e9eb" />
<rect x="77.00" y="374.30" width="44.50" height="16.10" fill="#e9e9eb" />
<rect x="123.50" y="374.30" width="47.00" height="16.10" fill="#e9e9eb" />
<rect x="172.50" y="374.30" width="40.00" height="16.10" fill="#e9e9eb" />
<rect x="214.50" y="374.30" width="39.00" height="16.10" fill="#e9e9eb" />
<rect x="255.50" y="374.30" width="39.00" height="16.10" fill="#e9e9eb" />
<rect x="296.00" y="374.30" width="40.00" height="16.10" fill="#e9e9eb" />
<rect x="338.00" y="374.30" width="38.50" height="16.10" fill="#e9e9eb" />
<rect x="378.50" y="374.30" width="39.50" height="16.10" fill="#e9e9eb" />
<rect x="420.00" y="374.30" width="38.50" height="16.10" fill="#e9e9eb" />
<text transform="translate(9.70,385.90) scale(0.7860,1)" font-size="8.8" font-weight="bold" fill="#222" text-anchor="start"  stroke="#222" stroke-width="0.15">R-DRY 6500 BVA</text>
<text transform="translate(99.25,385.90) scale(0.7600,1)" font-size="9.4" font-weight="normal" fill="#2e2e30" text-anchor="middle"  stroke="#2e2e30" stroke-width="0.08">DN150</text>
<text transform="translate(147.00,385.90) scale(0.7600,1)" font-size="9.4" font-weight="normal" fill="#2e2e30" text-anchor="middle"  stroke="#2e2e30" stroke-width="0.08">6.550</text>
<text transform="translate(192.50,385.90) scale(0.7600,1)" font-size="9.4" font-weight="normal" fill="#2e2e30" text-anchor="middle"  stroke="#2e2e30" stroke-width="0.08">3.520</text>
<text transform="translate(234.00,385.90) scale(0.7600,1)" font-size="9.4" font-weight="normal" fill="#2e2e30" text-anchor="middle"  stroke="#2e2e30" stroke-width="0.08">1.750</text>
<text transform="translate(275.00,385.90) scale(0.7600,1)" font-size="9.4" font-weight="normal" fill="#2e2e30" text-anchor="middle"  stroke="#2e2e30" stroke-width="0.08">3.050</text>
<text transform="translate(316.00,385.90) scale(0.7600,1)" font-size="9.4" font-weight="normal" fill="#2e2e30" text-anchor="middle"  stroke="#2e2e30" stroke-width="0.08">7.200</text>
<text transform="translate(357.25,385.90) scale(0.7600,1)" font-size="9.4" font-weight="normal" fill="#2e2e30" text-anchor="middle"  stroke="#2e2e30" stroke-width="0.08">15</text>
<text transform="translate(398.25,385.90) scale(0.7600,1)" font-size="9.4" font-weight="normal" fill="#2e2e30" text-anchor="middle"  stroke="#2e2e30" stroke-width="0.08">56</text>
<text transform="translate(439.25,385.90) scale(0.7600,1)" font-size="9.4" font-weight="normal" fill="#2e2e30" text-anchor="middle"  stroke="#2e2e30" stroke-width="0.08">BF 900</text>
<rect x="6.00" y="392.35" width="69.00" height="16.10" fill="#d4d5d7" />
<rect x="77.00" y="392.35" width="44.50" height="16.10" fill="#d4d5d7" />
<rect x="123.50" y="392.35" width="47.00" height="16.10" fill="#d4d5d7" />
<rect x="172.50" y="392.35" width="40.00" height="16.10" fill="#d4d5d7" />
<rect x="214.50" y="392.35" width="39.00" height="16.10" fill="#d4d5d7" />
<rect x="255.50" y="392.35" width="39.00" height="16.10" fill="#d4d5d7" />
<rect x="296.00" y="392.35" width="40.00" height="16.10" fill="#d4d5d7" />
<rect x="338.00" y="392.35" width="38.50" height="16.10" fill="#d4d5d7" />
<rect x="378.50" y="392.35" width="39.50" height="16.10" fill="#d4d5d7" />
<rect x="420.00" y="392.35" width="38.50" height="16.10" fill="#d4d5d7" />
<text transform="translate(9.70,403.95) scale(0.7860,1)" font-size="8.8" font-weight="bold" fill="#222" text-anchor="start"  stroke="#222" stroke-width="0.15">R-DRY 7700 BVA</text>
<text transform="translate(99.25,403.95) scale(0.7600,1)" font-size="9.4" font-weight="normal" fill="#2e2e30" text-anchor="middle"  stroke="#2e2e30" stroke-width="0.08">DN150</text>
<text transform="translate(147.00,403.95) scale(0.7600,1)" font-size="9.4" font-weight="normal" fill="#2e2e30" text-anchor="middle"  stroke="#2e2e30" stroke-width="0.08">7.700</text>
<text transform="translate(192.50,403.95) scale(0.7600,1)" font-size="9.4" font-weight="normal" fill="#2e2e30" text-anchor="middle"  stroke="#2e2e30" stroke-width="0.08">3.700</text>
<text transform="translate(234.00,403.95) scale(0.7600,1)" font-size="9.4" font-weight="normal" fill="#2e2e30" text-anchor="middle"  stroke="#2e2e30" stroke-width="0.08">2.000</text>
<text transform="translate(275.00,403.95) scale(0.7600,1)" font-size="9.4" font-weight="normal" fill="#2e2e30" text-anchor="middle"  stroke="#2e2e30" stroke-width="0.08">3.100</text>
<text transform="translate(316.00,403.95) scale(0.7600,1)" font-size="9.4" font-weight="normal" fill="#2e2e30" text-anchor="middle"  stroke="#2e2e30" stroke-width="0.08">7.900</text>
<text transform="translate(357.25,403.95) scale(0.7600,1)" font-size="9.4" font-weight="normal" fill="#2e2e30" text-anchor="middle"  stroke="#2e2e30" stroke-width="0.08">15</text>
<text transform="translate(398.25,403.95) scale(0.7600,1)" font-size="9.4" font-weight="normal" fill="#2e2e30" text-anchor="middle"  stroke="#2e2e30" stroke-width="0.08">70</text>
<text transform="translate(439.25,403.95) scale(0.7600,1)" font-size="9.4" font-weight="normal" fill="#2e2e30" text-anchor="middle"  stroke="#2e2e30" stroke-width="0.08">BF 900</text>
<rect x="6.00" y="410.40" width="69.00" height="16.10" fill="#e9e9eb" />
<rect x="77.00" y="410.40" width="44.50" height="16.10" fill="#e9e9eb" />
<rect x="123.50" y="410.40" width="47.00" height="16.10" fill="#e9e9eb" />
<rect x="172.50" y="410.40" width="40.00" height="16.10" fill="#e9e9eb" />
<rect x="214.50" y="410.40" width="39.00" height="16.10" fill="#e9e9eb" />
<rect x="255.50" y="410.40" width="39.00" height="16.10" fill="#e9e9eb" />
<rect x="296.00" y="410.40" width="40.00" height="16.10" fill="#e9e9eb" />
<rect x="338.00" y="410.40" width="38.50" height="16.10" fill="#e9e9eb" />
<rect x="378.50" y="410.40" width="39.50" height="16.10" fill="#e9e9eb" />
<rect x="420.00" y="410.40" width="38.50" height="16.10" fill="#e9e9eb" />
<text transform="translate(9.70,422.00) scale(0.7860,1)" font-size="8.8" font-weight="bold" fill="#222" text-anchor="start"  stroke="#222" stroke-width="0.15">R-DRY 10000 BVA</text>
<text transform="translate(99.25,422.00) scale(0.7600,1)" font-size="9.4" font-weight="normal" fill="#2e2e30" text-anchor="middle"  stroke="#2e2e30" stroke-width="0.08">DN200</text>
<text transform="translate(147.00,422.00) scale(0.7600,1)" font-size="9.4" font-weight="normal" fill="#2e2e30" text-anchor="middle"  stroke="#2e2e30" stroke-width="0.08">10.250</text>
<text transform="translate(192.50,422.00) scale(0.7600,1)" font-size="9.4" font-weight="normal" fill="#2e2e30" text-anchor="middle"  stroke="#2e2e30" stroke-width="0.08">4.300</text>
<text transform="translate(234.00,422.00) scale(0.7600,1)" font-size="9.4" font-weight="normal" fill="#2e2e30" text-anchor="middle"  stroke="#2e2e30" stroke-width="0.08">2.200</text>
<text transform="translate(275.00,422.00) scale(0.7600,1)" font-size="9.4" font-weight="normal" fill="#2e2e30" text-anchor="middle"  stroke="#2e2e30" stroke-width="0.08">3.550</text>
<text transform="translate(316.00,422.00) scale(0.7600,1)" font-size="9.4" font-weight="normal" fill="#2e2e30" text-anchor="middle"  stroke="#2e2e30" stroke-width="0.08">12.000</text>
<text transform="translate(357.25,422.00) scale(0.7600,1)" font-size="9.4" font-weight="normal" fill="#2e2e30" text-anchor="middle"  stroke="#2e2e30" stroke-width="0.08">22</text>
<text transform="translate(398.25,422.00) scale(0.7600,1)" font-size="9.4" font-weight="normal" fill="#2e2e30" text-anchor="middle"  stroke="#2e2e30" stroke-width="0.08">95</text>
<text transform="translate(439.25,422.00) scale(0.7600,1)" font-size="9.4" font-weight="normal" fill="#2e2e30" text-anchor="middle"  stroke="#2e2e30" stroke-width="0.08">BF 1200</text>
<rect x="6.00" y="428.45" width="69.00" height="16.10" fill="#d4d5d7" />
<rect x="77.00" y="428.45" width="44.50" height="16.10" fill="#d4d5d7" />
<rect x="123.50" y="428.45" width="47.00" height="16.10" fill="#d4d5d7" />
<rect x="172.50" y="428.45" width="40.00" height="16.10" fill="#d4d5d7" />
<rect x="214.50" y="428.45" width="39.00" height="16.10" fill="#d4d5d7" />
<rect x="255.50" y="428.45" width="39.00" height="16.10" fill="#d4d5d7" />
<rect x="296.00" y="428.45" width="40.00" height="16.10" fill="#d4d5d7" />
<rect x="338.00" y="428.45" width="38.50" height="16.10" fill="#d4d5d7" />
<rect x="378.50" y="428.45" width="39.50" height="16.10" fill="#d4d5d7" />
<rect x="420.00" y="428.45" width="38.50" height="16.10" fill="#d4d5d7" />
<text transform="translate(9.70,440.05) scale(0.7860,1)" font-size="8.8" font-weight="bold" fill="#222" text-anchor="start"  stroke="#222" stroke-width="0.15">R-DRY 12000 BVA</text>
<text transform="translate(99.25,440.05) scale(0.7600,1)" font-size="9.4" font-weight="normal" fill="#2e2e30" text-anchor="middle"  stroke="#2e2e30" stroke-width="0.08">DN200</text>
<text transform="translate(147.00,440.05) scale(0.7600,1)" font-size="9.4" font-weight="normal" fill="#2e2e30" text-anchor="middle"  stroke="#2e2e30" stroke-width="0.08">11.700</text>
<text transform="translate(192.50,440.05) scale(0.7600,1)" font-size="9.4" font-weight="normal" fill="#2e2e30" text-anchor="middle"  stroke="#2e2e30" stroke-width="0.08">4.400</text>
<text transform="translate(234.00,440.05) scale(0.7600,1)" font-size="9.4" font-weight="normal" fill="#2e2e30" text-anchor="middle"  stroke="#2e2e30" stroke-width="0.08">2.500</text>
<text transform="translate(275.00,440.05) scale(0.7600,1)" font-size="9.4" font-weight="normal" fill="#2e2e30" text-anchor="middle"  stroke="#2e2e30" stroke-width="0.08">3.550</text>
<text transform="translate(316.00,440.05) scale(0.7600,1)" font-size="9.4" font-weight="normal" fill="#2e2e30" text-anchor="middle"  stroke="#2e2e30" stroke-width="0.08">14.200</text>
<text transform="translate(357.25,440.05) scale(0.7600,1)" font-size="9.4" font-weight="normal" fill="#2e2e30" text-anchor="middle"  stroke="#2e2e30" stroke-width="0.08">-</text>
<text transform="translate(398.25,440.05) scale(0.7600,1)" font-size="9.4" font-weight="normal" fill="#2e2e30" text-anchor="middle"  stroke="#2e2e30" stroke-width="0.08">-</text>
<text transform="translate(439.25,440.05) scale(0.7600,1)" font-size="9.4" font-weight="normal" fill="#2e2e30" text-anchor="middle"  stroke="#2e2e30" stroke-width="0.08">BF 1200</text>
<rect x="6.00" y="446.50" width="69.00" height="16.10" fill="#e9e9eb" />
<rect x="77.00" y="446.50" width="44.50" height="16.10" fill="#e9e9eb" />
<rect x="123.50" y="446.50" width="47.00" height="16.10" fill="#e9e9eb" />
<rect x="172.50" y="446.50" width="40.00" height="16.10" fill="#e9e9eb" />
<rect x="214.50" y="446.50" width="39.00" height="16.10" fill="#e9e9eb" />
<rect x="255.50" y="446.50" width="39.00" height="16.10" fill="#e9e9eb" />
<rect x="296.00" y="446.50" width="40.00" height="16.10" fill="#e9e9eb" />
<rect x="338.00" y="446.50" width="38.50" height="16.10" fill="#e9e9eb" />
<rect x="378.50" y="446.50" width="39.50" height="16.10" fill="#e9e9eb" />
<rect x="420.00" y="446.50" width="38.50" height="16.10" fill="#e9e9eb" />
<text transform="translate(9.70,458.10) scale(0.7860,1)" font-size="8.8" font-weight="bold" fill="#222" text-anchor="start"  stroke="#222" stroke-width="0.15">R-DRY 14000 BVA</text>
<text transform="translate(99.25,458.10) scale(0.7600,1)" font-size="9.4" font-weight="normal" fill="#2e2e30" text-anchor="middle"  stroke="#2e2e30" stroke-width="0.08">DN200</text>
<text transform="translate(147.00,458.10) scale(0.7600,1)" font-size="9.4" font-weight="normal" fill="#2e2e30" text-anchor="middle"  stroke="#2e2e30" stroke-width="0.08">14.800</text>
<text transform="translate(192.50,458.10) scale(0.7600,1)" font-size="9.4" font-weight="normal" fill="#2e2e30" text-anchor="middle"  stroke="#2e2e30" stroke-width="0.08">4.800</text>
<text transform="translate(234.00,458.10) scale(0.7600,1)" font-size="9.4" font-weight="normal" fill="#2e2e30" text-anchor="middle"  stroke="#2e2e30" stroke-width="0.08">2.600</text>
<text transform="translate(275.00,458.10) scale(0.7600,1)" font-size="9.4" font-weight="normal" fill="#2e2e30" text-anchor="middle"  stroke="#2e2e30" stroke-width="0.08">3.650</text>
<text transform="translate(316.00,458.10) scale(0.7600,1)" font-size="9.4" font-weight="normal" fill="#2e2e30" text-anchor="middle"  stroke="#2e2e30" stroke-width="0.08">16.800</text>
<text transform="translate(357.25,458.10) scale(0.7600,1)" font-size="9.4" font-weight="normal" fill="#2e2e30" text-anchor="middle"  stroke="#2e2e30" stroke-width="0.08">-</text>
<text transform="translate(398.25,458.10) scale(0.7600,1)" font-size="9.4" font-weight="normal" fill="#2e2e30" text-anchor="middle"  stroke="#2e2e30" stroke-width="0.08">-</text>
<text transform="translate(439.25,458.10) scale(0.7600,1)" font-size="9.4" font-weight="normal" fill="#2e2e30" text-anchor="middle"  stroke="#2e2e30" stroke-width="0.08">BF 1500</text>
<rect x="6.00" y="464.55" width="69.00" height="16.10" fill="#d4d5d7" />
<rect x="77.00" y="464.55" width="44.50" height="16.10" fill="#d4d5d7" />
<rect x="123.50" y="464.55" width="47.00" height="16.10" fill="#d4d5d7" />
<rect x="172.50" y="464.55" width="40.00" height="16.10" fill="#d4d5d7" />
<rect x="214.50" y="464.55" width="39.00" height="16.10" fill="#d4d5d7" />
<rect x="255.50" y="464.55" width="39.00" height="16.10" fill="#d4d5d7" />
<rect x="296.00" y="464.55" width="40.00" height="16.10" fill="#d4d5d7" />
<rect x="338.00" y="464.55" width="38.50" height="16.10" fill="#d4d5d7" />
<rect x="378.50" y="464.55" width="39.50" height="16.10" fill="#d4d5d7" />
<rect x="420.00" y="464.55" width="38.50" height="16.10" fill="#d4d5d7" />
<text transform="translate(9.70,476.15) scale(0.7860,1)" font-size="8.8" font-weight="bold" fill="#222" text-anchor="start"  stroke="#222" stroke-width="0.15">R-DRY 16000 BVA</text>
<text transform="translate(99.25,476.15) scale(0.7600,1)" font-size="9.4" font-weight="normal" fill="#2e2e30" text-anchor="middle"  stroke="#2e2e30" stroke-width="0.08">DN250</text>
<text transform="translate(147.00,476.15) scale(0.7600,1)" font-size="9.4" font-weight="normal" fill="#2e2e30" text-anchor="middle"  stroke="#2e2e30" stroke-width="0.08">16.000</text>
<text transform="translate(192.50,476.15) scale(0.7600,1)" font-size="9.4" font-weight="normal" fill="#2e2e30" text-anchor="middle"  stroke="#2e2e30" stroke-width="0.08">5.000</text>
<text transform="translate(234.00,476.15) scale(0.7600,1)" font-size="9.4" font-weight="normal" fill="#2e2e30" text-anchor="middle"  stroke="#2e2e30" stroke-width="0.08">3.200</text>
<text transform="translate(275.00,476.15) scale(0.7600,1)" font-size="9.4" font-weight="normal" fill="#2e2e30" text-anchor="middle"  stroke="#2e2e30" stroke-width="0.08">3.650</text>
<text transform="translate(316.00,476.15) scale(0.7600,1)" font-size="9.4" font-weight="normal" fill="#2e2e30" text-anchor="middle"  stroke="#2e2e30" stroke-width="0.08">18.500</text>
<text transform="translate(357.25,476.15) scale(0.7600,1)" font-size="9.4" font-weight="normal" fill="#2e2e30" text-anchor="middle"  stroke="#2e2e30" stroke-width="0.08">-</text>
<text transform="translate(398.25,476.15) scale(0.7600,1)" font-size="9.4" font-weight="normal" fill="#2e2e30" text-anchor="middle"  stroke="#2e2e30" stroke-width="0.08">-</text>
<text transform="translate(439.25,476.15) scale(0.7600,1)" font-size="9.4" font-weight="normal" fill="#2e2e30" text-anchor="middle"  stroke="#2e2e30" stroke-width="0.08">BF 1800</text>
<rect x="6.00" y="482.60" width="69.00" height="16.10" fill="#e9e9eb" />
<rect x="77.00" y="482.60" width="44.50" height="16.10" fill="#e9e9eb" />
<rect x="123.50" y="482.60" width="47.00" height="16.10" fill="#e9e9eb" />
<rect x="172.50" y="482.60" width="40.00" height="16.10" fill="#e9e9eb" />
<rect x="214.50" y="482.60" width="39.00" height="16.10" fill="#e9e9eb" />
<rect x="255.50" y="482.60" width="39.00" height="16.10" fill="#e9e9eb" />
<rect x="296.00" y="482.60" width="40.00" height="16.10" fill="#e9e9eb" />
<rect x="338.00" y="482.60" width="38.50" height="16.10" fill="#e9e9eb" />
<rect x="378.50" y="482.60" width="39.50" height="16.10" fill="#e9e9eb" />
<rect x="420.00" y="482.60" width="38.50" height="16.10" fill="#e9e9eb" />
<text transform="translate(9.70,494.20) scale(0.7860,1)" font-size="8.8" font-weight="bold" fill="#222" text-anchor="start"  stroke="#222" stroke-width="0.15">R-DRY 18000 BVA</text>
<text transform="translate(99.25,494.20) scale(0.7600,1)" font-size="9.4" font-weight="normal" fill="#2e2e30" text-anchor="middle"  stroke="#2e2e30" stroke-width="0.08">DN250</text>
<text transform="translate(147.00,494.20) scale(0.7600,1)" font-size="9.4" font-weight="normal" fill="#2e2e30" text-anchor="middle"  stroke="#2e2e30" stroke-width="0.08">18.200</text>
<text transform="translate(192.50,494.20) scale(0.7600,1)" font-size="9.4" font-weight="normal" fill="#2e2e30" text-anchor="middle"  stroke="#2e2e30" stroke-width="0.08">5.200</text>
<text transform="translate(234.00,494.20) scale(0.7600,1)" font-size="9.4" font-weight="normal" fill="#2e2e30" text-anchor="middle"  stroke="#2e2e30" stroke-width="0.08">3.500</text>
<text transform="translate(275.00,494.20) scale(0.7600,1)" font-size="9.4" font-weight="normal" fill="#2e2e30" text-anchor="middle"  stroke="#2e2e30" stroke-width="0.08">4.200</text>
<text transform="translate(316.00,494.20) scale(0.7600,1)" font-size="9.4" font-weight="normal" fill="#2e2e30" text-anchor="middle"  stroke="#2e2e30" stroke-width="0.08">20.000</text>
<text transform="translate(357.25,494.20) scale(0.7600,1)" font-size="9.4" font-weight="normal" fill="#2e2e30" text-anchor="middle"  stroke="#2e2e30" stroke-width="0.08">-</text>
<text transform="translate(398.25,494.20) scale(0.7600,1)" font-size="9.4" font-weight="normal" fill="#2e2e30" text-anchor="middle"  stroke="#2e2e30" stroke-width="0.08">-</text>
<text transform="translate(439.25,494.20) scale(0.7600,1)" font-size="9.4" font-weight="normal" fill="#2e2e30" text-anchor="middle"  stroke="#2e2e30" stroke-width="0.08">BF 1800</text>
<rect x="6.00" y="500.65" width="69.00" height="16.10" fill="#d4d5d7" />
<rect x="77.00" y="500.65" width="44.50" height="16.10" fill="#d4d5d7" />
<rect x="123.50" y="500.65" width="47.00" height="16.10" fill="#d4d5d7" />
<rect x="172.50" y="500.65" width="40.00" height="16.10" fill="#d4d5d7" />
<rect x="214.50" y="500.65" width="39.00" height="16.10" fill="#d4d5d7" />
<rect x="255.50" y="500.65" width="39.00" height="16.10" fill="#d4d5d7" />
<rect x="296.00" y="500.65" width="40.00" height="16.10" fill="#d4d5d7" />
<rect x="338.00" y="500.65" width="38.50" height="16.10" fill="#d4d5d7" />
<rect x="378.50" y="500.65" width="39.50" height="16.10" fill="#d4d5d7" />
<rect x="420.00" y="500.65" width="38.50" height="16.10" fill="#d4d5d7" />
<text transform="translate(9.70,512.25) scale(0.7860,1)" font-size="8.8" font-weight="bold" fill="#222" text-anchor="start"  stroke="#222" stroke-width="0.15">R-DRY 20000 BVA</text>
<text transform="translate(99.25,512.25) scale(0.7600,1)" font-size="9.4" font-weight="normal" fill="#2e2e30" text-anchor="middle"  stroke="#2e2e30" stroke-width="0.08">DN250</text>
<text transform="translate(147.00,512.25) scale(0.7600,1)" font-size="9.4" font-weight="normal" fill="#2e2e30" text-anchor="middle"  stroke="#2e2e30" stroke-width="0.08">20.200</text>
<text transform="translate(192.50,512.25) scale(0.7600,1)" font-size="9.4" font-weight="normal" fill="#2e2e30" text-anchor="middle"  stroke="#2e2e30" stroke-width="0.08">6.000</text>
<text transform="translate(234.00,512.25) scale(0.7600,1)" font-size="9.4" font-weight="normal" fill="#2e2e30" text-anchor="middle"  stroke="#2e2e30" stroke-width="0.08">3.500</text>
<text transform="translate(275.00,512.25) scale(0.7600,1)" font-size="9.4" font-weight="normal" fill="#2e2e30" text-anchor="middle"  stroke="#2e2e30" stroke-width="0.08">4.350</text>
<text transform="translate(316.00,512.25) scale(0.7600,1)" font-size="9.4" font-weight="normal" fill="#2e2e30" text-anchor="middle"  stroke="#2e2e30" stroke-width="0.08">23.000</text>
<text transform="translate(357.25,512.25) scale(0.7600,1)" font-size="9.4" font-weight="normal" fill="#2e2e30" text-anchor="middle"  stroke="#2e2e30" stroke-width="0.08">-</text>
<text transform="translate(398.25,512.25) scale(0.7600,1)" font-size="9.4" font-weight="normal" fill="#2e2e30" text-anchor="middle"  stroke="#2e2e30" stroke-width="0.08">-</text>
<text transform="translate(439.25,512.25) scale(0.7600,1)" font-size="9.4" font-weight="normal" fill="#2e2e30" text-anchor="middle"  stroke="#2e2e30" stroke-width="0.08">BF 2500</text>
<rect x="5.50" y="521.00" width="453.50" height="17.00" fill="#93268f" />
<text transform="translate(145.80,534.90) scale(0.6011,1)" font-size="10.2" font-weight="normal" fill="#fbeefa" text-anchor="start"  stroke="#fbeefa" stroke-width="0.35">PRESSION DE SERVICE - FACTEUR DE CORRECTION - C</text>
<text transform="translate(313.60,537.20) scale(0.8500,1)" font-size="6.5" font-weight="normal" fill="#fbeefa" text-anchor="start"  stroke="#fbeefa" stroke-width="0.3">gr</text>
<rect x="5.50" y="540.20" width="113.00" height="16.40" fill="#e9e9eb" />
<rect x="120.00" y="540.20" width="41.00" height="16.40" fill="#e9e9eb" />
<text transform="translate(140.50,552.00) scale(0.7500,1)" font-size="9.6" font-weight="normal" fill="#2e2e30" text-anchor="middle"  stroke="#2e2e30" stroke-width="0.1">4</text>
<rect x="162.68" y="540.20" width="41.00" height="16.40" fill="#e9e9eb" />
<text transform="translate(183.18,552.00) scale(0.7500,1)" font-size="9.6" font-weight="normal" fill="#2e2e30" text-anchor="middle"  stroke="#2e2e30" stroke-width="0.1">5</text>
<rect x="205.36" y="540.20" width="41.00" height="16.40" fill="#e9e9eb" />
<text transform="translate(225.86,552.00) scale(0.7500,1)" font-size="9.6" font-weight="normal" fill="#2e2e30" text-anchor="middle"  stroke="#2e2e30" stroke-width="0.1">6</text>
<rect x="248.04" y="540.20" width="41.00" height="16.40" fill="#e9e9eb" />
<text transform="translate(268.54,552.00) scale(0.7500,1)" font-size="9.6" font-weight="normal" fill="#2e2e30" text-anchor="middle"  stroke="#2e2e30" stroke-width="0.1">7</text>
<rect x="290.72" y="540.20" width="41.00" height="16.40" fill="#e9e9eb" />
<text transform="translate(311.22,552.00) scale(0.7500,1)" font-size="9.6" font-weight="normal" fill="#2e2e30" text-anchor="middle"  stroke="#2e2e30" stroke-width="0.1">8</text>
<rect x="333.40" y="540.20" width="41.00" height="16.40" fill="#e9e9eb" />
<text transform="translate(353.90,552.00) scale(0.7500,1)" font-size="9.6" font-weight="normal" fill="#2e2e30" text-anchor="middle"  stroke="#2e2e30" stroke-width="0.1">9</text>
<rect x="376.08" y="540.20" width="41.00" height="16.40" fill="#e9e9eb" />
<text transform="translate(396.58,552.00) scale(0.7500,1)" font-size="9.6" font-weight="normal" fill="#2e2e30" text-anchor="middle"  stroke="#2e2e30" stroke-width="0.1">10</text>
<rect x="418.76" y="540.20" width="41.00" height="16.40" fill="#e9e9eb" />
<text transform="translate(439.26,552.00) scale(0.7500,1)" font-size="9.6" font-weight="normal" fill="#2e2e30" text-anchor="middle"  stroke="#2e2e30" stroke-width="0.1">11</text>
<text transform="translate(9.70,552.00) scale(0.8167,1)" font-size="8.5" font-weight="normal" fill="#2e2e30" text-anchor="start"  stroke="#2e2e30" stroke-width="0.1">Pression de service [bar]</text>
<rect x="5.50" y="557.80" width="113.00" height="16.40" fill="#d4d5d7" />
<rect x="120.00" y="557.80" width="41.00" height="16.40" fill="#d4d5d7" />
<text transform="translate(140.50,569.60) scale(0.7500,1)" font-size="9.6" font-weight="normal" fill="#2e2e30" text-anchor="middle"  stroke="#2e2e30" stroke-width="0.1">58</text>
<rect x="162.68" y="557.80" width="41.00" height="16.40" fill="#d4d5d7" />
<text transform="translate(183.18,569.60) scale(0.7500,1)" font-size="9.6" font-weight="normal" fill="#2e2e30" text-anchor="middle"  stroke="#2e2e30" stroke-width="0.1">72</text>
<rect x="205.36" y="557.80" width="41.00" height="16.40" fill="#d4d5d7" />
<text transform="translate(225.86,569.60) scale(0.7500,1)" font-size="9.6" font-weight="normal" fill="#2e2e30" text-anchor="middle"  stroke="#2e2e30" stroke-width="0.1">87</text>
<rect x="248.04" y="557.80" width="41.00" height="16.40" fill="#d4d5d7" />
<text transform="translate(268.54,569.60) scale(0.7500,1)" font-size="9.6" font-weight="normal" fill="#2e2e30" text-anchor="middle"  stroke="#2e2e30" stroke-width="0.1">100</text>
<rect x="290.72" y="557.80" width="41.00" height="16.40" fill="#d4d5d7" />
<text transform="translate(311.22,569.60) scale(0.7500,1)" font-size="9.6" font-weight="normal" fill="#2e2e30" text-anchor="middle"  stroke="#2e2e30" stroke-width="0.1">115</text>
<rect x="333.40" y="557.80" width="41.00" height="16.40" fill="#d4d5d7" />
<text transform="translate(353.90,569.60) scale(0.7500,1)" font-size="9.6" font-weight="normal" fill="#2e2e30" text-anchor="middle"  stroke="#2e2e30" stroke-width="0.1">130</text>
<rect x="376.08" y="557.80" width="41.00" height="16.40" fill="#d4d5d7" />
<text transform="translate(396.58,569.60) scale(0.7500,1)" font-size="9.6" font-weight="normal" fill="#2e2e30" text-anchor="middle"  stroke="#2e2e30" stroke-width="0.1">145</text>
<rect x="418.76" y="557.80" width="41.00" height="16.40" fill="#d4d5d7" />
<text transform="translate(439.26,569.60) scale(0.7500,1)" font-size="9.6" font-weight="normal" fill="#2e2e30" text-anchor="middle"  stroke="#2e2e30" stroke-width="0.1">160</text>
<text transform="translate(9.70,569.60) scale(0.8170,1)" font-size="8.5" font-weight="normal" fill="#2e2e30" text-anchor="start"  stroke="#2e2e30" stroke-width="0.1">Pression de service [psi]</text>
<rect x="5.50" y="575.40" width="113.00" height="16.40" fill="#e9e9eb" />
<rect x="120.00" y="575.40" width="41.00" height="16.40" fill="#e9e9eb" />
<text transform="translate(140.50,587.20) scale(0.7500,1)" font-size="9.6" font-weight="normal" fill="#2e2e30" text-anchor="middle"  stroke="#2e2e30" stroke-width="0.1">0,63</text>
<rect x="162.68" y="575.40" width="41.00" height="16.40" fill="#e9e9eb" />
<text transform="translate(183.18,587.20) scale(0.7500,1)" font-size="9.6" font-weight="normal" fill="#2e2e30" text-anchor="middle"  stroke="#2e2e30" stroke-width="0.1">0,75</text>
<rect x="205.36" y="575.40" width="41.00" height="16.40" fill="#e9e9eb" />
<text transform="translate(225.86,587.20) scale(0.7500,1)" font-size="9.6" font-weight="normal" fill="#2e2e30" text-anchor="middle"  stroke="#2e2e30" stroke-width="0.1">0,88</text>
<rect x="248.04" y="575.40" width="41.00" height="16.40" fill="#e9e9eb" />
<text transform="translate(268.54,587.20) scale(0.7500,1)" font-size="9.6" font-weight="normal" fill="#2e2e30" text-anchor="middle"  stroke="#2e2e30" stroke-width="0.1">1</text>
<rect x="290.72" y="575.40" width="41.00" height="16.40" fill="#e9e9eb" />
<text transform="translate(311.22,587.20) scale(0.7500,1)" font-size="9.6" font-weight="normal" fill="#2e2e30" text-anchor="middle"  stroke="#2e2e30" stroke-width="0.1">1,13</text>
<rect x="333.40" y="575.40" width="41.00" height="16.40" fill="#e9e9eb" />
<text transform="translate(353.90,587.20) scale(0.7500,1)" font-size="9.6" font-weight="normal" fill="#2e2e30" text-anchor="middle"  stroke="#2e2e30" stroke-width="0.1">1,25</text>
<rect x="376.08" y="575.40" width="41.00" height="16.40" fill="#e9e9eb" />
<text transform="translate(396.58,587.20) scale(0.7500,1)" font-size="9.6" font-weight="normal" fill="#2e2e30" text-anchor="middle"  stroke="#2e2e30" stroke-width="0.1">1,38</text>
<rect x="418.76" y="575.40" width="41.00" height="16.40" fill="#e9e9eb" />
<text transform="translate(439.26,587.20) scale(0.7500,1)" font-size="9.6" font-weight="normal" fill="#2e2e30" text-anchor="middle"  stroke="#2e2e30" stroke-width="0.1">1,50</text>
<text transform="translate(9.70,587.20) scale(0.8170,1)" font-size="8.5" font-weight="normal" fill="#2e2e30" text-anchor="start"  stroke="#2e2e30" stroke-width="0.1">Facteur de correction C</text>
<text transform="translate(82.30,589.40) scale(0.8500,1)" font-size="5.2" font-weight="normal" fill="#2e2e30" text-anchor="start"  stroke="#2e2e30" stroke-width="0.1">gr</text>
<rect x="5.50" y="598.00" width="453.50" height="17.50" fill="#93268f" />
<text transform="translate(138.30,612.00) scale(0.6104,1)" font-size="10.2" font-weight="normal" fill="#fbeefa" text-anchor="start"  stroke="#fbeefa" stroke-width="0.35">TEMPERATURE DE SERVICE - FACTEUR DE CORRECTION - C</text>
<text transform="translate(321.00,614.30) scale(0.8500,1)" font-size="6.5" font-weight="normal" fill="#fbeefa" text-anchor="start"  stroke="#fbeefa" stroke-width="0.3">gr</text>
<rect x="5.50" y="617.40" width="113.00" height="16.40" fill="#e9e9eb" />
<rect x="120.60" y="617.40" width="66.00" height="16.40" fill="#e9e9eb" />
<text transform="translate(153.60,629.20) scale(0.7500,1)" font-size="9.6" font-weight="normal" fill="#2e2e30" text-anchor="middle"  stroke="#2e2e30" stroke-width="0.1">25</text>
<rect x="188.60" y="617.40" width="66.00" height="16.40" fill="#e9e9eb" />
<text transform="translate(221.60,629.20) scale(0.7500,1)" font-size="9.6" font-weight="normal" fill="#2e2e30" text-anchor="middle"  stroke="#2e2e30" stroke-width="0.1">30</text>
<rect x="256.60" y="617.40" width="66.00" height="16.40" fill="#e9e9eb" />
<text transform="translate(289.60,629.20) scale(0.7500,1)" font-size="9.6" font-weight="normal" fill="#2e2e30" text-anchor="middle"  stroke="#2e2e30" stroke-width="0.1">35</text>
<rect x="324.60" y="617.40" width="66.00" height="16.40" fill="#e9e9eb" />
<text transform="translate(357.60,629.20) scale(0.7500,1)" font-size="9.6" font-weight="normal" fill="#2e2e30" text-anchor="middle"  stroke="#2e2e30" stroke-width="0.1">40</text>
<rect x="392.60" y="617.40" width="66.00" height="16.40" fill="#e9e9eb" />
<text transform="translate(425.60,629.20) scale(0.7500,1)" font-size="9.6" font-weight="normal" fill="#2e2e30" text-anchor="middle"  stroke="#2e2e30" stroke-width="0.1">42,5</text>
<text transform="translate(9.70,629.20) scale(0.8170,1)" font-size="8.5" font-weight="normal" fill="#2e2e30" text-anchor="start"  stroke="#2e2e30" stroke-width="0.1">Temperature de service [°C]</text>
<rect x="5.50" y="635.40" width="113.00" height="16.40" fill="#d4d5d7" />
<rect x="120.60" y="635.40" width="66.00" height="16.40" fill="#d4d5d7" />
<text transform="translate(153.60,647.20) scale(0.7500,1)" font-size="9.6" font-weight="normal" fill="#2e2e30" text-anchor="middle"  stroke="#2e2e30" stroke-width="0.1">77</text>
<rect x="188.60" y="635.40" width="66.00" height="16.40" fill="#d4d5d7" />
<text transform="translate(221.60,647.20) scale(0.7500,1)" font-size="9.6" font-weight="normal" fill="#2e2e30" text-anchor="middle"  stroke="#2e2e30" stroke-width="0.1">86</text>
<rect x="256.60" y="635.40" width="66.00" height="16.40" fill="#d4d5d7" />
<text transform="translate(289.60,647.20) scale(0.7500,1)" font-size="9.6" font-weight="normal" fill="#2e2e30" text-anchor="middle"  stroke="#2e2e30" stroke-width="0.1">95</text>
<rect x="324.60" y="635.40" width="66.00" height="16.40" fill="#d4d5d7" />
<text transform="translate(357.60,647.20) scale(0.7500,1)" font-size="9.6" font-weight="normal" fill="#2e2e30" text-anchor="middle"  stroke="#2e2e30" stroke-width="0.1">104</text>
<rect x="392.60" y="635.40" width="66.00" height="16.40" fill="#d4d5d7" />
<text transform="translate(425.60,647.20) scale(0.7500,1)" font-size="9.6" font-weight="normal" fill="#2e2e30" text-anchor="middle"  stroke="#2e2e30" stroke-width="0.1">108</text>
<text transform="translate(9.70,647.20) scale(0.8170,1)" font-size="8.5" font-weight="normal" fill="#2e2e30" text-anchor="start"  stroke="#2e2e30" stroke-width="0.1">Temperature de service [F]</text>
<rect x="5.50" y="653.40" width="113.00" height="16.40" fill="#e9e9eb" />
<rect x="120.60" y="653.40" width="66.00" height="16.40" fill="#e9e9eb" />
<text transform="translate(153.60,665.20) scale(0.7500,1)" font-size="9.6" font-weight="normal" fill="#2e2e30" text-anchor="middle"  stroke="#2e2e30" stroke-width="0.1">1</text>
<rect x="188.60" y="653.40" width="66.00" height="16.40" fill="#e9e9eb" />
<text transform="translate(221.60,665.20) scale(0.7500,1)" font-size="9.6" font-weight="normal" fill="#2e2e30" text-anchor="middle"  stroke="#2e2e30" stroke-width="0.1">1</text>
<rect x="256.60" y="653.40" width="66.00" height="16.40" fill="#e9e9eb" />
<text transform="translate(289.60,665.20) scale(0.7500,1)" font-size="9.6" font-weight="normal" fill="#2e2e30" text-anchor="middle"  stroke="#2e2e30" stroke-width="0.1">1</text>
<rect x="324.60" y="653.40" width="66.00" height="16.40" fill="#e9e9eb" />
<text transform="translate(357.60,665.20) scale(0.7500,1)" font-size="9.6" font-weight="normal" fill="#2e2e30" text-anchor="middle"  stroke="#2e2e30" stroke-width="0.1">0,7</text>
<rect x="392.60" y="653.40" width="66.00" height="16.40" fill="#e9e9eb" />
<text transform="translate(425.60,665.20) scale(0.7500,1)" font-size="9.6" font-weight="normal" fill="#2e2e30" text-anchor="middle"  stroke="#2e2e30" stroke-width="0.1">0,52</text>
<text transform="translate(9.70,665.20) scale(0.8170,1)" font-size="8.5" font-weight="normal" fill="#2e2e30" text-anchor="start"  stroke="#2e2e30" stroke-width="0.1">Facteur de correction C</text>
<text transform="translate(82.30,667.40) scale(0.8500,1)" font-size="5.2" font-weight="normal" fill="#2e2e30" text-anchor="start"  stroke="#2e2e30" stroke-width="0.1">gr</text>
<text transform="translate(14.00,693.90) scale(0.7979,1)" font-size="8.8" font-weight="normal" fill="#2e2e30" text-anchor="start"  stroke="#2e2e30" stroke-width="0.3">Se rêfere à 1bar(a) et 20°C at 7 bar pression de service, Arrivée temperature 35°C et pressure Point de rosee at, Sortie -40°C</text>
<text transform="translate(12.20,707.70) scale(0.8018,1)" font-size="8.8" font-weight="normal" fill="#2e2e30" text-anchor="start"  stroke="#2e2e30" stroke-width="0.3">Se rapporte à la connexion d&#x27;entrée et de sortie du sécheur, sans filtre.</text>
<text transform="translate(5.20,689.80) scale(0.8000,1)" font-size="5" font-weight="normal" fill="#2e2e30" text-anchor="start"  stroke="#2e2e30" stroke-width="0.3">(1)</text>
<text transform="translate(5.40,703.60) scale(0.8000,1)" font-size="5" font-weight="normal" fill="#2e2e30" text-anchor="start"  stroke="#2e2e30" stroke-width="0.3">(2)</text>
<rect x="492.00" y="583.70" width="135.60" height="18.00" fill="#93268f" />
<rect x="629.20" y="583.70" width="125.80" height="18.00" fill="#d4d5d7" />
<text transform="translate(495.00,596.20) scale(0.7776,1)" font-size="9.0" font-weight="normal" fill="#fbeefa" text-anchor="start"  stroke="#fbeefa" stroke-width="0.25">Classe de protection</text>
<text transform="translate(632.40,596.20) scale(0.7800,1)" font-size="9.0" font-weight="normal" fill="#2e2e30" text-anchor="start"  stroke="#2e2e30" stroke-width="0.08">IP 54</text>
<rect x="492.00" y="603.70" width="135.60" height="18.00" fill="#93268f" />
<rect x="629.20" y="603.70" width="125.80" height="18.00" fill="#e9e9eb" />
<text transform="translate(495.00,616.20) scale(0.8136,1)" font-size="9.0" font-weight="normal" fill="#fbeefa" text-anchor="start"  stroke="#fbeefa" stroke-width="0.25">Filtre à l&#x27;entrée</text>
<text transform="translate(632.40,616.20) scale(0.7800,1)" font-size="9.0" font-weight="normal" fill="#2e2e30" text-anchor="start"  stroke="#2e2e30" stroke-width="0.08">super fin - 0,01 µm</text>
<rect x="492.00" y="623.70" width="135.60" height="18.00" fill="#93268f" />
<rect x="629.20" y="623.70" width="125.80" height="18.00" fill="#d4d5d7" />
<text transform="translate(495.00,636.20) scale(0.8079,1)" font-size="9.0" font-weight="normal" fill="#fbeefa" text-anchor="start"  stroke="#fbeefa" stroke-width="0.25">Filtre à la sortie</text>
<text transform="translate(632.40,636.20) scale(0.7800,1)" font-size="9.0" font-weight="normal" fill="#2e2e30" text-anchor="start"  stroke="#2e2e30" stroke-width="0.08">filtre à poussière, 1 µm</text>
<rect x="492.00" y="643.70" width="135.60" height="18.00" fill="#93268f" />
<rect x="629.20" y="643.70" width="125.80" height="18.00" fill="#e9e9eb" />
<text transform="translate(495.00,656.20) scale(0.8019,1)" font-size="9.0" font-weight="normal" fill="#fbeefa" text-anchor="start"  stroke="#fbeefa" stroke-width="0.25">Isolation de colonne</text>
<text transform="translate(632.40,656.20) scale(0.7800,1)" font-size="9.0" font-weight="normal" fill="#2e2e30" text-anchor="start"  stroke="#2e2e30" stroke-width="0.08">optionnel</text>
<rect x="492.00" y="663.70" width="135.60" height="18.00" fill="#93268f" />
<rect x="629.20" y="663.70" width="125.80" height="18.00" fill="#e9e9eb" />
<text transform="translate(495.00,676.20) scale(0.8099,1)" font-size="9.0" font-weight="normal" fill="#fbeefa" text-anchor="start"  stroke="#fbeefa" stroke-width="0.25">Conditions d&#x27;aspiration du ventilateur</text>
<text transform="translate(632.40,676.20) scale(0.7800,1)" font-size="9.0" font-weight="normal" fill="#2e2e30" text-anchor="start"  stroke="#2e2e30" stroke-width="0.08">Max 40 °C, 25 % RH</text>
<defs>
<linearGradient id="gc" x1="0" x2="1" y1="0" y2="0">
<stop offset="0" stop-color="#c2c2c2"/><stop offset="0.1" stop-color="#d2d2d2"/><stop offset="0.38" stop-color="#ebebeb"/><stop offset="0.7" stop-color="#dfdfdf"/><stop offset="1" stop-color="#c4c4c4"/>
</linearGradient>
<linearGradient id="gb" x1="0" x2="1" y1="0" y2="0">
<stop offset="0" stop-color="#d0d0d0"/><stop offset="0.45" stop-color="#ededed"/><stop offset="1" stop-color="#d4d4d4"/>
</linearGradient>
<linearGradient id="gp" x1="0" x2="0" y1="0" y2="1">
<stop offset="0" stop-color="#f0f0f0"/><stop offset="0.5" stop-color="#dcdcdc"/><stop offset="1" stop-color="#c6c6c6"/>
</linearGradient>
<linearGradient id="gd" x1="0" x2="0" y1="0" y2="1">
<stop offset="0" stop-color="#b8b8b8"/><stop offset="1" stop-color="#d6d6d6"/>
</linearGradient>
</defs>
<g stroke="#4a4a4a" stroke-width="0.8" fill="none">
<!-- ===== FRONT VIEW ===== -->
<!-- dimension C -->
<line x1="474.5" y1="266.8" x2="505.5" y2="266.8"/>
<line x1="474" y1="481.2" x2="498" y2="481.2"/>
<line x1="477.5" y1="268" x2="477.5" y2="480"/>
<path d="M477.5 266.8 L475 274.5 L480 274.5 Z" fill="#222"/>
<path d="M477.5 481 L475 473.2 L480 473.2 Z" fill="#222"/>
<!-- dimension A -->
<line x1="485.7" y1="450" x2="485.7" y2="500.5"/>
<line x1="637.6" y1="450" x2="637.6" y2="500.5"/>
<line x1="487" y1="498.2" x2="636.5" y2="498.2"/>
<path d="M485.7 498.2 L494 495.7 L494 500.7 Z" fill="#222"/>
<path d="M637.6 498.2 L629.3 495.7 L629.3 500.7 Z" fill="#222"/>
<!-- base plate -->
<rect x="498.2" y="470.6" width="127.6" height="10.6" fill="#c8c8c8"/>
<rect x="523" y="471.8" width="17.5" height="8.2" fill="#e0e0e0" stroke-width="0.5"/>
<rect x="583" y="471.8" width="17.5" height="8.2" fill="#e0e0e0" stroke-width="0.5"/>
<rect x="542" y="471.8" width="39.5" height="8.2" fill="#d8d8d8" stroke="none"/>
<line x1="498.2" y1="470.6" x2="625.8" y2="470.6" stroke-width="1.3" stroke="#222"/>
<!-- bottom pipe -->
<rect x="522.5" y="456" width="78.5" height="7.6" fill="url(#gp)"/>
<line x1="526.7" y1="456" x2="526.7" y2="463.6" stroke-width="0.5"/>
<line x1="596.7" y1="456" x2="596.7" y2="463.6" stroke-width="0.5"/>
<!-- bottom domes / skirts left & right -->
<path d="M488 423 L488 437 Q490 446 510 449 L525.5 449 Q545 446 547 437 L547 423 Z" fill="url(#gc)"/>
<path d="M576.5 423 L576.5 437 Q578.5 446 598.5 449 L614 449 Q633.5 446 635.5 437 L635.5 423 Z" fill="url(#gc)"/>
<line x1="488" y1="434.4" x2="547" y2="434.4" stroke-width="0.6"/>
<line x1="488" y1="436.6" x2="547" y2="436.6" stroke-width="0.5"/>
<line x1="576.5" y1="434.4" x2="635.5" y2="434.4" stroke-width="0.6"/>
<line x1="576.5" y1="436.6" x2="635.5" y2="436.6" stroke-width="0.5"/>
<rect x="509.6" y="448.6" width="16" height="2.3" fill="#222" stroke="none"/>
<rect x="598" y="448.6" width="16" height="2.3" fill="#222" stroke="none"/>
<!-- legs -->
<rect x="513.3" y="423" width="9.2" height="47.6" fill="url(#gb)"/>
<rect x="601.5" y="423" width="9.2" height="47.6" fill="url(#gb)"/>
<!-- cylinders -->
<path d="M491.7 296.3 A25.75 6.8 0 0 1 543.2 296.3 Z" fill="url(#gd)"/>
<rect x="485.8" y="296.3" width="64" height="126.7" fill="url(#gc)"/>
<path d="M579.8 296.1 A25.65 6.6 0 0 1 631.1 296.1 Z" fill="url(#gd)"/>
<rect x="574" y="296.1" width="63.5" height="126.9" fill="url(#gc)"/>
<!-- nozzles on top -->
<rect x="509.6" y="285.8" width="16.1" height="3.4" fill="#2a2a2a"/>
<rect x="514.5" y="281" width="7.3" height="4.8" fill="#cfcfcf"/>
<rect x="597.3" y="286.2" width="16.3" height="3.2" fill="#2a2a2a"/>
<rect x="602" y="281.5" width="6.4" height="4.7" fill="#cfcfcf"/>
<!-- central column -->
<rect x="553.1" y="293.8" width="17.2" height="115" fill="url(#gb)"/>
<rect x="558" y="290" width="7.6" height="3.8" fill="#ddd"/>
<rect x="553.4" y="286.2" width="16.3" height="3.2" fill="#2a2a2a"/>
<!-- top pipes -->
<path d="M544.6 273 L518 273 Q514.5 273 514.5 276.5 L514.5 281 L521.8 281 L521.8 280.4 L544.6 280.4 Z" fill="url(#gp)"/>
<line x1="525.5" y1="273" x2="525.5" y2="280.4" stroke-width="0.5"/>
<path d="M577.5 273.4 L605 273.4 Q608.4 273.4 608.4 277 L608.4 281.5 L602 281.5 L602 280.4 L577.5 280.4 Z" fill="url(#gp)"/>
<line x1="597.5" y1="273.4" x2="597.5" y2="280.4" stroke-width="0.5"/>
<!-- flanges -->
<rect x="544.1" y="267.2" width="9" height="19" rx="1.8" fill="#3c3c3c" stroke="#111"/>
<rect x="546.6" y="269.8" width="1.4" height="13.8" fill="#c4c4c4" stroke="none"/>
<rect x="549.8" y="269.8" width="1.2" height="13.8" fill="#9a9a9a" stroke="none"/>
<rect x="570.3" y="267.2" width="8.5" height="19" rx="1.8" fill="#3c3c3c" stroke="#111"/>
<rect x="572.6" y="269.8" width="1.2" height="13.8" fill="#9a9a9a" stroke="none"/>
<rect x="575.6" y="269.8" width="1.4" height="13.8" fill="#c4c4c4" stroke="none"/>
<circle cx="561.6" cy="276.9" r="7.6" fill="#d6d6d6" stroke="#1e1e1e" stroke-width="1.1"/>
<circle cx="561.6" cy="276.9" r="4.6" fill="#e6e6e6" stroke="#444" stroke-width="0.7"/>
<circle cx="561.6" cy="276.9" r="2.3" fill="#cfcfcf" stroke="#555" stroke-width="0.6"/>
<line x1="561.6" y1="265" x2="561.6" y2="269.3" stroke-width="0.7"/>
<!-- control box -->
<rect x="535.4" y="319.3" width="52.9" height="70" fill="url(#gb)" stroke="#1e1e1e" stroke-width="1.3"/>
<rect x="538.9" y="326.3" width="3" height="3" fill="#333" stroke="none"/>
<rect x="538.9" y="379.2" width="3" height="3" fill="#333" stroke="none"/>
<rect x="556" y="334.9" width="12.4" height="10.9" fill="#e5e5e5" stroke="#1e1e1e" stroke-width="1.5"/>
<rect x="558.2" y="337.3" width="8" height="2.5" fill="#555" stroke="none"/>
<!-- under box section -->
<rect x="549" y="389.5" width="26" height="19.5" fill="#d9d9d9" stroke-width="0.6"/>
<rect x="551.6" y="392" width="20.9" height="17" fill="#2a2a2a" stroke="none"/>
<rect x="554" y="395" width="16" height="3.5" fill="#e6e6e6" stroke="none"/>
<rect x="554" y="400.5" width="16" height="2.8" fill="#cfcfcf" stroke="none"/>
<!-- lower box -->
<rect x="538.3" y="409" width="52.2" height="33.6" fill="url(#gb)" stroke="#1e1e1e" stroke-width="1.2"/>
<rect x="541.5" y="424.2" width="3" height="3" fill="#444" stroke="none"/>
<!-- windows -->
<g>
<rect x="506.2" y="366.7" width="23.3" height="20.3" fill="#e2e2e2" stroke-width="0.7"/>
<rect x="512.8" y="371.6" width="10.8" height="9.8" fill="#151515" stroke="none"/>
<path d="M506.2 366.7 L513.2 372.2 M529.5 366.7 L523.3 372.2 M506.2 387 L513.2 381.5 M529.5 387 L523.3 381.5" stroke-width="0.6"/>
<rect x="515.5" y="374.5" width="5" height="3" fill="#666" stroke="none"/>
</g>
<g>
<rect x="593.3" y="366.7" width="23.6" height="20.3" fill="#e2e2e2" stroke-width="0.7"/>
<rect x="599.9" y="371.6" width="10.8" height="9.8" fill="#151515" stroke="none"/>
<path d="M593.3 366.7 L600.3 372.2 M616.9 366.7 L610.4 372.2 M593.3 387 L600.3 381.5 M616.9 387 L610.4 381.5" stroke-width="0.6"/>
<rect x="602.6" y="374.5" width="5" height="3" fill="#666" stroke="none"/>
</g>
<!-- bottom valve group -->
<rect x="544" y="450.5" width="9.5" height="19" rx="2" fill="#3c3c3c" stroke="#111"/>
<rect x="546.5" y="453" width="1.4" height="14" fill="#c4c4c4" stroke="none"/>
<rect x="549.6" y="453" width="1.2" height="14" fill="#9a9a9a" stroke="none"/>
<rect x="571" y="450.5" width="9.5" height="19" rx="2" fill="#3c3c3c" stroke="#111"/>
<rect x="573.5" y="453" width="1.2" height="14" fill="#9a9a9a" stroke="none"/>
<rect x="576.6" y="453" width="1.4" height="14" fill="#c4c4c4" stroke="none"/>
<circle cx="562.2" cy="459.8" r="8.2" fill="#d2d2d2" stroke="#2a2a2a" stroke-width="1"/>
<path d="M557.3 455.8 L567.1 455.8 L562.2 461.5 Z" fill="#eee" stroke-width="0.7"/>
<!-- dashed center lines -->
<g stroke-dasharray="4 1.5 1 1.5" stroke-width="0.7" stroke="#444">
<line x1="517.7" y1="290" x2="517.7" y2="452"/>
<line x1="605.6" y1="290" x2="605.6" y2="452"/>
<line x1="562" y1="296" x2="562" y2="319"/>
</g>

<!-- ===== SIDE VIEW ===== -->
<!-- dimension B -->
<line x1="656.4" y1="444.7" x2="656.4" y2="501"/>
<line x1="754.4" y1="394" x2="754.4" y2="501"/>
<line x1="658" y1="497.6" x2="753" y2="497.6"/>
<path d="M656.4 497.6 L664.6 495.1 L664.6 500.1 Z" fill="#222"/>
<path d="M754.4 497.6 L746.2 495.1 L746.2 500.1 Z" fill="#222"/>
<!-- frame base -->
<rect x="674.3" y="471" width="62.2" height="10.6" fill="#cdcdcd"/>
<rect x="680.2" y="472.5" width="50.8" height="7.8" fill="#e4e4e4" stroke-width="0.5"/>
<!-- bottom dome -->
<path d="M679.4 422.5 L679.4 437 Q690 448 705 448 Q720 448 731 437 L731 422.5 Z" fill="url(#gc)"/>
<line x1="679.4" y1="434.8" x2="731" y2="434.8" stroke-width="0.6"/>
<rect x="697" y="448" width="18" height="2" fill="#333" stroke="none"/>
<!-- posts -->
<rect x="674.3" y="422.5" width="4.8" height="59" fill="url(#gb)"/>
<rect x="731.2" y="422.5" width="5.3" height="59" fill="url(#gb)"/>
<!-- bottom valves side -->
<rect x="668.3" y="450.3" width="5.8" height="16.4" fill="#cfcfcf"/>
<rect x="736.5" y="450.3" width="5.8" height="16.4" fill="#cfcfcf"/>
<circle cx="666.3" cy="459.4" r="1.6" fill="#ccc" stroke-width="0.5"/>
<circle cx="744.3" cy="459.4" r="1.6" fill="#ccc" stroke-width="0.5"/>
<rect x="679" y="451" width="2.6" height="17" fill="#333" stroke="none"/>
<rect x="728.8" y="451" width="2.6" height="17" fill="#333" stroke="none"/>
<circle cx="690.7" cy="459.4" r="8.4" fill="#d8d8d8" stroke="#333"/>
<circle cx="720" cy="459.4" r="8.4" fill="#d8d8d8" stroke="#333"/>
<rect x="686" y="455.8" width="38.5" height="7.4" rx="3.7" fill="#e8e8e8" stroke="#222" stroke-width="1.1"/>
<path d="M702.3 452.5 L708.5 452.5 L705.4 457 Z" fill="#ddd" stroke-width="0.5"/>
<!-- motor -->
<path d="M661.9 403.3 L661.9 397 Q661.9 394.1 664.8 394.1 L673.2 394.1 L673.2 403.3 Z" fill="url(#gp)"/>
<rect x="659.8" y="403.3" width="14.1" height="18.9" fill="#333"/>
<rect x="661" y="406" width="3" height="13" fill="#c4c4c4" stroke="none"/>
<rect x="655.6" y="422.9" width="4.2" height="1.7" fill="#333" stroke="none"/>
<rect x="659" y="424.6" width="15" height="4" fill="#cfcfcf" stroke-width="0.5"/>
<rect x="655.6" y="429.2" width="19" height="10.6" fill="#141414"/>
<!-- cylinder -->
<path d="M680.6 296.1 A25.1 6.3 0 0 1 730.8 296.1 Z" fill="url(#gd)"/>
<rect x="673.3" y="296.1" width="63.3" height="126.4" fill="url(#gc)"/>
<rect x="681.8" y="286.2" width="31.5" height="3.5" fill="#2a2a2a"/>
<!-- right boxes -->
<path d="M736.6 318.9 L752.5 318.9 L752.5 388.8 L734.8 388.8 L734.8 385.8 L734.8 367 L736.6 367 Z" fill="url(#gb)"/>
<line x1="752.5" y1="319" x2="752.5" y2="388.8" stroke-width="1.3" stroke="#222"/>
<rect x="752" y="335.6" width="2" height="10" fill="#222" stroke="none"/>
<rect x="752" y="377" width="1.8" height="4" fill="#222" stroke="none"/>
<rect x="736.6" y="409.5" width="12.9" height="34.5" fill="url(#gb)"/>
<line x1="749.5" y1="409.5" x2="749.5" y2="444" stroke-width="1.2" stroke="#222"/>
<rect x="749" y="421.5" width="1.8" height="5" fill="#222" stroke="none"/>
<!-- top valves side -->
<rect x="666" y="267" width="11.7" height="19.2" rx="1.8" fill="#3c3c3c" stroke="#111"/>
<rect x="669" y="270" width="2" height="13" fill="#c4c4c4" stroke="none"/>
<rect x="672.5" y="270" width="2" height="13" fill="#777" stroke="none"/>
<line x1="662.5" y1="277" x2="666" y2="277" stroke-width="1.4"/>
<line x1="677.7" y1="277" x2="682" y2="277" stroke-width="1.4"/>
<circle cx="690.6" cy="276.9" r="8.7" fill="#d8d8d8" stroke="#333" stroke-width="0.9"/>
<circle cx="720.3" cy="276.9" r="8.7" fill="#d8d8d8" stroke="#333" stroke-width="0.9"/>
<rect x="685.9" y="273.4" width="39.1" height="7.6" rx="3.8" fill="#e8e8e8" stroke="#1e1e1e" stroke-width="1.3"/>
<rect x="728.4" y="268.7" width="3" height="17" fill="#444"/>
<path d="M702.5 281 L708.5 281 L705.5 286 Z" fill="#ddd" stroke-width="0.5"/>
<g stroke-dasharray="4 1.5 1 1.5" stroke-width="0.7" stroke="#333">
<line x1="705.4" y1="266" x2="705.4" y2="452"/>
</g>
</g>
<text x="561.5" y="495.5" font-size="8" fill="#333" stroke="#333" stroke-width="0.3" text-anchor="middle" font-family="Liberation Sans">A</text>
<text x="705.5" y="494" font-size="8" fill="#333" stroke="#333" stroke-width="0.3" text-anchor="middle" font-family="Liberation Sans">B</text>
<text transform="translate(475,372) rotate(-90)" font-size="7" fill="#555" text-anchor="middle" font-family="Liberation Sans">C</text>

</svg>
</body></html>
